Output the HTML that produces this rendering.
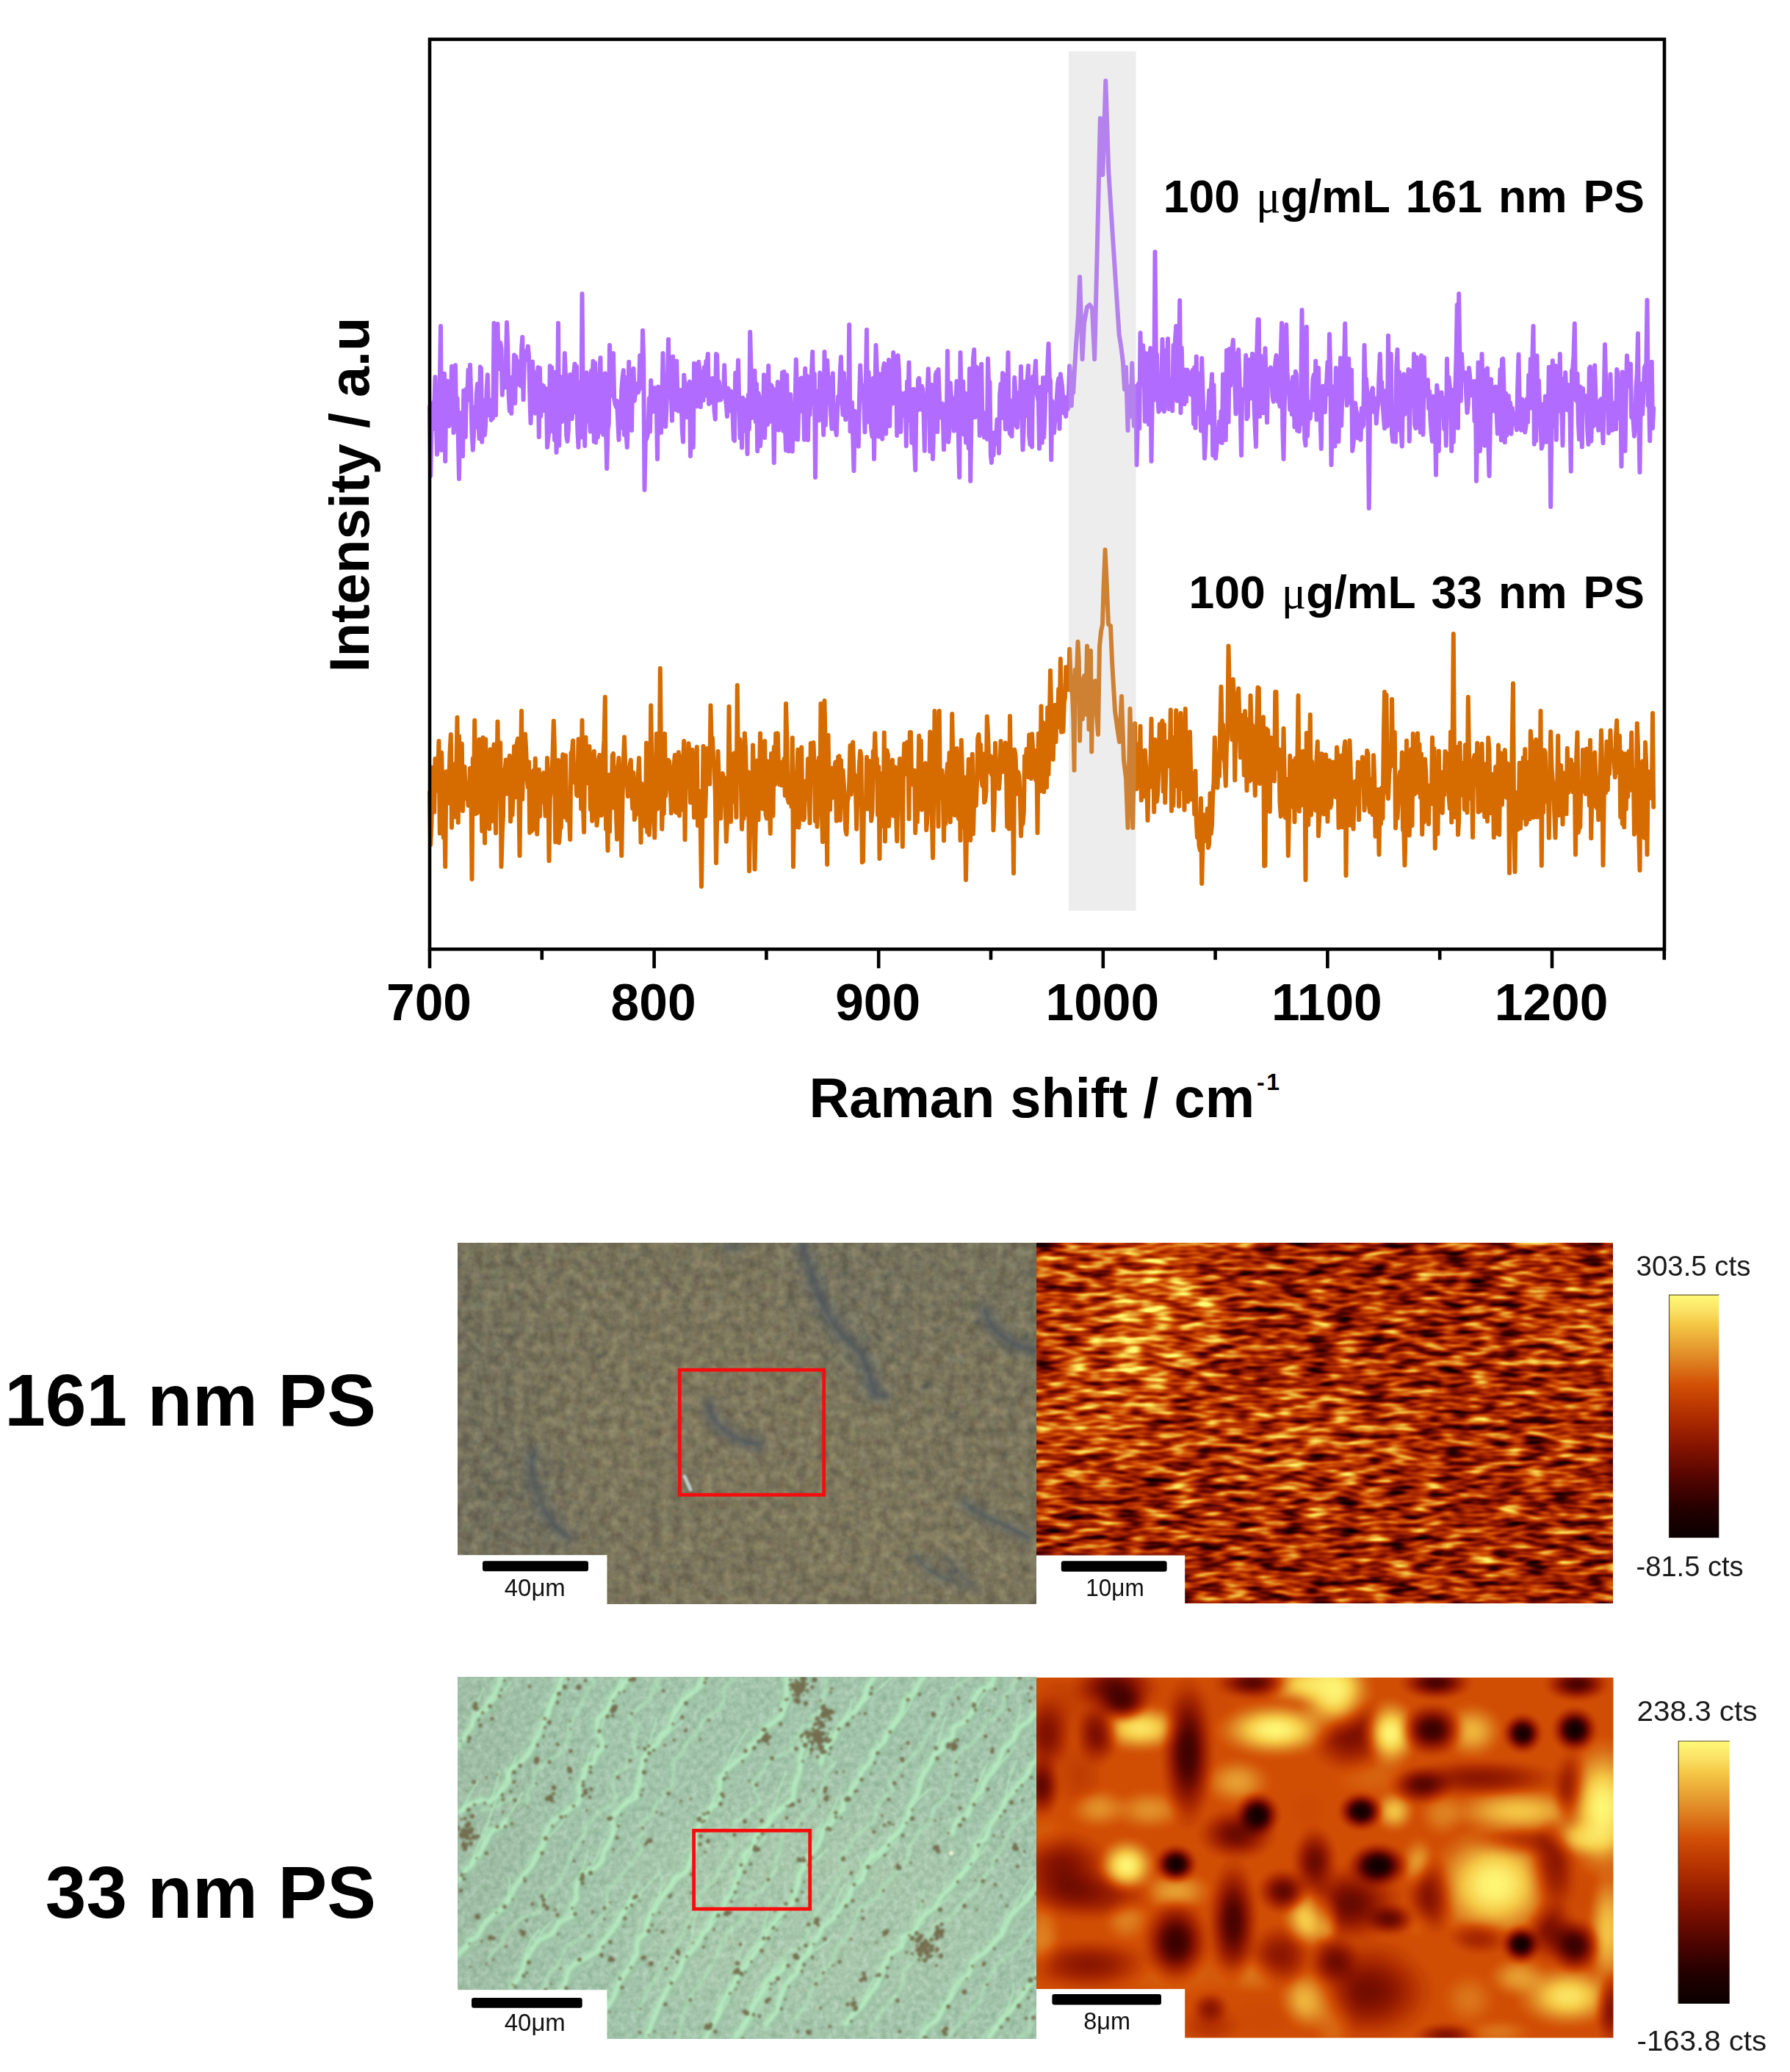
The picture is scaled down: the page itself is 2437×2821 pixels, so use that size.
<!DOCTYPE html>
<html lang="en"><head><meta charset="utf-8"><title>Raman spectra of PS nanoplastics</title>
<style>html,body{margin:0;padding:0;background:#fff}svg{display:block}</style></head><body>
<svg width="2437" height="2821" viewBox="0 0 2437 2821">
<defs><linearGradient id="cb" x1="0" y1="0" x2="0" y2="1">
<stop offset="0" stop-color="#fffa78"/><stop offset="0.06" stop-color="#fbe468"/><stop offset="0.12" stop-color="#f5c846"/><stop offset="0.25" stop-color="#e18c28"/>
<stop offset="0.37" stop-color="#d25005"/><stop offset="0.5" stop-color="#af2d00"/><stop offset="0.62" stop-color="#871400"/>
<stop offset="0.75" stop-color="#550500"/><stop offset="0.87" stop-color="#280000"/><stop offset="1" stop-color="#0a0000"/></linearGradient><filter id="hm1" x="0" y="0" width="1" height="1" color-interpolation-filters="sRGB">
<feTurbulence type="fractalNoise" baseFrequency="0.027 0.1" numOctaves="2" seed="5" result="t"/>
<feColorMatrix in="t" type="matrix" values="1.32 0 0 0 -0.16000000000000003  1.32 0 0 0 -0.16000000000000003  1.32 0 0 0 -0.16000000000000003  0 0 0 0 1" result="g"/>
<feComposite in="g" in2="SourceGraphic" operator="arithmetic" k1="0" k2="1" k3="1" k4="-0.5" result="v"/>
<feComponentTransfer in="v"><feFuncR type="table" tableValues="0.04 0.157 0.333 0.53 0.686 0.824 0.882 0.961 1"/><feFuncG type="table" tableValues="0 0 0.02 0.078 0.176 0.314 0.549 0.784 0.98"/><feFuncB type="table" tableValues="0 0 0 0 0 0.02 0.157 0.275 0.47"/></feComponentTransfer>
</filter>
<filter id="hm2" x="-0.1" y="-0.1" width="1.2" height="1.2" color-interpolation-filters="sRGB">
<feGaussianBlur stdDeviation="3" result="b"/>
<feComponentTransfer in="b"><feFuncR type="table" tableValues="0.04 0.157 0.333 0.53 0.686 0.824 0.882 0.961 1"/><feFuncG type="table" tableValues="0 0 0.02 0.078 0.176 0.314 0.549 0.784 0.98"/><feFuncB type="table" tableValues="0 0 0 0 0 0.02 0.157 0.275 0.47"/></feComponentTransfer>
</filter>
<filter id="gr1" x="0" y="0" width="1" height="1" color-interpolation-filters="sRGB">
<feTurbulence type="fractalNoise" baseFrequency="0.07" numOctaves="3" seed="3" result="t"/>
<feColorMatrix in="t" type="matrix" values="0.24 0.05 0 0 0.355  0.24 0 0 0 0.38  0.17 0 0.04 0 0.395  0 0 0 0 1" result="n"/>
<feComposite in="n" in2="SourceGraphic" operator="arithmetic" k1="0" k2="1" k3="1" k4="-0.5"/>
</filter>
<filter id="gr2" x="0" y="0" width="1" height="1" color-interpolation-filters="sRGB">
<feTurbulence type="fractalNoise" baseFrequency="0.12" numOctaves="3" seed="9" result="t"/>
<feColorMatrix in="t" type="matrix" values="0.2 0 0 0 0.4  0.17 0 0 0 0.415  0.2 0 0 0 0.4  0 0 0 0 1" result="n"/>
<feComposite in="n" in2="SourceGraphic" operator="arithmetic" k1="0" k2="1" k3="1" k4="-0.5"/>
</filter>
<radialGradient id="rgw"><stop offset="0" stop-color="#fff" stop-opacity="1"/><stop offset="0.2" stop-color="#fff" stop-opacity="0.93"/><stop offset="0.4" stop-color="#fff" stop-opacity="0.72"/><stop offset="0.6" stop-color="#fff" stop-opacity="0.42"/><stop offset="0.8" stop-color="#fff" stop-opacity="0.15"/><stop offset="1" stop-color="#fff" stop-opacity="0"/></radialGradient>
<radialGradient id="rgk"><stop offset="0" stop-color="#000" stop-opacity="1"/><stop offset="0.2" stop-color="#000" stop-opacity="0.93"/><stop offset="0.4" stop-color="#000" stop-opacity="0.72"/><stop offset="0.6" stop-color="#000" stop-opacity="0.42"/><stop offset="0.8" stop-color="#000" stop-opacity="0.15"/><stop offset="1" stop-color="#000" stop-opacity="0"/></radialGradient>
<filter id="b2" x="-0.5" y="-0.5" width="2" height="2"><feGaussianBlur stdDeviation="2.2"/></filter>
<filter id="b8" x="-0.5" y="-0.5" width="2" height="2"><feGaussianBlur stdDeviation="7"/></filter>
<filter id="b4" x="-0.5" y="-0.5" width="2" height="2"><feGaussianBlur stdDeviation="4"/></filter>
<filter id="b15" x="-0.5" y="-0.5" width="2" height="2"><feGaussianBlur stdDeviation="1.5"/></filter>
<filter id="b1" x="-0.5" y="-0.5" width="2" height="2"><feGaussianBlur stdDeviation="1.1"/></filter>
<filter id="b40" x="-0.5" y="-0.5" width="2" height="2"><feGaussianBlur stdDeviation="40"/></filter>
<clipPath id="c1"><rect x="623.5" y="1692" width="787.5" height="492"/></clipPath>
<clipPath id="c2"><rect x="1411" y="1692" width="784.5" height="491"/></clipPath>
<clipPath id="c3"><rect x="623.5" y="2283.5" width="787.5" height="492"/></clipPath>
<clipPath id="c4"><rect x="1411" y="2284" width="785.5" height="490.5"/></clipPath></defs>
<rect width="2437" height="2821" fill="#fff"/>
<path d="M585.0,553.8 586.2,648.0 587.5,580.2 588.8,584.6 590.0,547.8 591.2,556.9 592.5,513.2 593.8,573.6 595.0,618.7 596.2,608.1 597.5,583.4 598.8,520.5 600.0,444.0 601.2,613.0 602.5,515.4 603.8,573.9 605.0,508.8 606.2,628.0 607.5,530.9 608.8,518.7 610.0,579.3 611.2,580.0 612.5,554.2 613.8,544.1 615.0,498.8 616.2,501.5 617.5,589.1 618.8,563.3 620.0,497.3 621.2,570.6 622.5,542.2 623.8,593.4 625.0,652.0 626.2,561.9 627.5,564.5 628.8,610.4 630.0,621.1 631.2,531.7 632.5,541.1 633.8,595.0 635.0,529.2 636.2,545.1 637.5,503.6 638.8,531.4 640.0,496.7 641.2,533.9 642.5,589.1 643.8,612.7 645.0,590.9 646.2,554.6 647.5,581.5 648.8,536.6 650.0,522.8 651.2,566.0 652.5,597.1 653.8,499.4 655.0,501.5 656.2,601.8 657.5,545.0 658.8,584.9 660.0,592.4 661.2,575.8 662.5,532.5 663.8,510.3 665.0,564.9 666.2,558.4 667.5,550.9 668.8,571.9 670.0,544.0 671.2,568.9 672.5,440.0 673.8,552.9 675.0,565.1 676.2,473.2 677.5,441.0 678.8,502.2 680.0,496.5 681.2,466.5 682.5,474.8 683.8,537.7 685.0,505.6 686.2,524.7 687.5,527.3 688.8,496.9 690.0,439.0 691.2,470.9 692.5,535.1 693.8,559.4 695.0,536.2 696.2,562.8 697.5,513.5 698.8,532.9 700.0,483.3 701.2,549.0 702.5,485.6 703.8,503.0 705.0,492.1 706.2,514.9 707.5,524.2 708.8,525.5 710.0,477.4 711.2,459.1 712.5,544.3 713.8,492.2 715.0,478.4 716.2,480.7 717.5,490.0 718.8,471.4 720.0,484.2 721.2,534.2 722.5,576.0 723.8,546.3 725.0,492.5 726.2,525.7 727.5,524.3 728.8,562.7 730.0,507.0 731.2,546.8 732.5,500.3 733.8,595.0 735.0,501.2 736.2,566.7 737.5,548.7 738.8,524.4 740.0,525.6 741.2,558.9 742.5,536.5 743.8,529.1 745.0,609.0 746.2,597.6 747.5,585.7 748.8,498.2 750.0,546.9 751.2,500.4 752.5,587.3 753.8,529.6 755.0,599.0 756.2,506.8 757.5,616.0 758.8,582.4 760.0,440.0 761.2,606.6 762.5,529.7 763.8,513.4 765.0,574.2 766.2,553.2 767.5,543.3 768.8,481.0 770.0,510.8 771.2,593.3 772.5,600.9 773.8,585.2 775.0,522.4 776.2,510.0 777.5,548.8 778.8,570.3 780.0,552.4 781.2,508.1 782.5,495.4 783.8,561.1 785.0,499.1 786.2,582.4 787.5,608.8 788.8,520.7 790.0,588.0 791.2,595.4 792.5,400.0 793.8,542.3 795.0,521.7 796.2,606.9 797.5,517.9 798.8,507.2 800.0,573.5 801.2,534.9 802.5,567.1 803.8,587.5 805.0,504.7 806.2,522.6 807.5,491.8 808.8,601.2 810.0,494.0 811.2,602.4 812.5,563.1 813.8,595.6 815.0,575.9 816.2,508.1 817.5,487.0 818.8,588.2 820.0,519.5 821.2,591.7 822.5,510.9 823.8,508.3 825.0,582.1 826.2,638.0 827.5,585.6 828.8,576.8 830.0,470.0 831.2,513.4 832.5,481.0 833.8,539.0 835.0,481.0 836.2,542.9 837.5,550.2 838.8,553.9 840.0,545.8 841.2,571.5 842.5,598.8 843.8,557.8 845.0,582.8 846.2,530.9 847.5,514.4 848.8,504.1 850.0,591.9 851.2,513.7 852.5,589.8 853.8,609.0 855.0,567.7 856.2,492.7 857.5,572.6 858.8,527.8 860.0,585.9 861.2,511.3 862.5,501.8 863.8,545.7 865.0,536.1 866.2,522.6 867.5,534.5 868.8,534.3 870.0,530.6 871.2,484.1 872.5,527.5 873.8,527.9 875.0,450.0 876.2,489.7 877.5,667.0 878.8,600.2 880.0,598.1 881.2,594.3 882.5,587.2 883.8,542.3 885.0,587.5 886.2,518.0 887.5,555.3 888.8,560.7 890.0,540.2 891.2,528.0 892.5,539.0 893.8,549.4 895.0,625.0 896.2,526.5 897.5,533.7 898.8,535.5 900.0,589.0 901.2,557.0 902.5,481.0 903.8,576.2 905.0,537.8 906.2,580.8 907.5,554.4 908.8,516.1 910.0,462.0 911.2,536.1 912.5,511.5 913.8,537.4 915.0,572.8 916.2,485.5 917.5,538.1 918.8,540.8 920.0,557.8 921.2,491.6 922.5,541.7 923.8,559.7 925.0,540.5 926.2,530.9 927.5,539.6 928.8,587.0 930.0,601.6 931.2,510.5 932.5,527.0 933.8,548.3 935.0,568.1 936.2,556.4 937.5,523.1 938.8,519.6 940.0,621.0 941.2,553.7 942.5,563.1 943.8,608.9 945.0,494.7 946.2,517.5 947.5,547.6 948.8,553.3 950.0,499.7 951.2,492.7 952.5,504.7 953.8,554.0 955.0,506.0 956.2,514.5 957.5,545.1 958.8,500.0 960.0,538.7 961.2,491.9 962.5,495.7 963.8,482.0 965.0,549.9 966.2,523.1 967.5,529.7 968.8,547.8 970.0,515.0 971.2,530.1 972.5,558.4 973.8,570.8 975.0,482.0 976.2,483.0 977.5,545.1 978.8,519.6 980.0,534.0 981.2,544.4 982.5,526.9 983.8,540.8 985.0,538.1 986.2,497.2 987.5,540.8 988.8,550.8 990.0,567.0 991.2,528.4 992.5,534.5 993.8,559.3 995.0,532.5 996.2,536.1 997.5,563.3 998.8,598.3 1000.0,600.0 1001.2,507.7 1002.5,541.0 1003.8,540.6 1005.0,490.6 1006.2,544.7 1007.5,596.2 1008.8,553.4 1010.0,609.5 1011.2,541.5 1012.5,567.7 1013.8,586.5 1015.0,578.4 1016.2,544.5 1017.5,618.0 1018.8,537.4 1020.0,583.9 1021.2,452.0 1022.5,502.7 1023.8,568.9 1025.0,551.1 1026.2,561.8 1027.5,504.7 1028.8,574.1 1030.0,522.8 1031.2,614.1 1032.5,535.3 1033.8,541.2 1035.0,607.2 1036.2,592.2 1037.5,549.2 1038.8,589.2 1040.0,510.2 1041.2,595.9 1042.5,547.1 1043.8,516.7 1045.0,578.0 1046.2,498.1 1047.5,574.4 1048.8,555.1 1050.0,524.2 1051.2,527.4 1052.5,536.6 1053.8,630.0 1055.0,530.6 1056.2,542.4 1057.5,559.9 1058.8,520.1 1060.0,585.6 1061.2,552.3 1062.5,526.2 1063.8,555.7 1065.0,507.3 1066.2,586.6 1067.5,506.1 1068.8,575.7 1070.0,612.9 1071.2,510.4 1072.5,576.1 1073.8,614.3 1075.0,591.9 1076.2,537.1 1077.5,582.8 1078.8,614.4 1080.0,574.1 1081.2,598.1 1082.5,551.5 1083.8,489.6 1085.0,531.9 1086.2,598.4 1087.5,550.9 1088.8,516.3 1090.0,521.7 1091.2,514.5 1092.5,560.1 1093.8,535.4 1095.0,598.6 1096.2,501.7 1097.5,593.9 1098.8,512.1 1100.0,599.0 1101.2,541.7 1102.5,564.9 1103.8,536.3 1105.0,505.6 1106.2,479.0 1107.5,548.7 1108.8,508.9 1110.0,650.0 1111.2,532.4 1112.5,544.6 1113.8,558.8 1115.0,572.2 1116.2,507.6 1117.5,517.7 1118.8,557.2 1120.0,555.5 1121.2,591.9 1122.5,479.0 1123.8,578.9 1125.0,535.7 1126.2,490.8 1127.5,520.3 1128.8,513.7 1130.0,530.5 1131.2,565.2 1132.5,583.8 1133.8,508.3 1135.0,578.7 1136.2,578.2 1137.5,583.9 1138.8,592.3 1140.0,559.4 1141.2,539.7 1142.5,547.5 1143.8,506.2 1145.0,485.9 1146.2,541.1 1147.5,564.7 1148.8,507.9 1150.0,531.2 1151.2,571.3 1152.5,541.2 1153.8,542.3 1155.0,567.2 1156.2,442.0 1157.5,587.3 1158.8,585.6 1160.0,548.1 1161.2,592.7 1162.5,641.0 1163.8,559.8 1165.0,575.1 1166.2,568.0 1167.5,590.0 1168.8,607.8 1170.0,541.3 1171.2,497.4 1172.5,528.7 1173.8,538.0 1175.0,525.1 1176.2,549.2 1177.5,588.3 1178.8,521.8 1180.0,449.0 1181.2,574.4 1182.5,506.7 1183.8,536.4 1185.0,565.5 1186.2,585.1 1187.5,594.6 1188.8,515.0 1190.0,625.0 1191.2,545.3 1192.5,470.0 1193.8,503.1 1195.0,562.6 1196.2,594.4 1197.5,509.2 1198.8,519.4 1200.0,581.5 1201.2,597.8 1202.5,501.4 1203.8,494.9 1205.0,564.7 1206.2,590.5 1207.5,495.9 1208.8,569.4 1210.0,489.9 1211.2,580.0 1212.5,510.2 1213.8,519.6 1215.0,549.5 1216.2,480.0 1217.5,493.5 1218.8,508.2 1220.0,500.0 1221.2,592.9 1222.5,484.0 1223.8,503.5 1225.0,541.8 1226.2,588.0 1227.5,535.4 1228.8,540.1 1230.0,550.4 1231.2,565.7 1232.5,535.0 1233.8,607.3 1235.0,519.8 1236.2,549.1 1237.5,493.6 1238.8,573.2 1240.0,553.6 1241.2,602.7 1242.5,562.8 1243.8,529.8 1245.0,607.5 1246.2,640.0 1247.5,550.4 1248.8,559.3 1250.0,517.1 1251.2,515.0 1252.5,540.2 1253.8,557.4 1255.0,525.8 1256.2,529.6 1257.5,560.5 1258.8,613.7 1260.0,540.7 1261.2,537.4 1262.5,537.3 1263.8,502.3 1265.0,533.8 1266.2,614.6 1267.5,595.0 1268.8,524.0 1270.0,625.0 1271.2,577.6 1272.5,561.5 1273.8,510.1 1275.0,506.4 1276.2,587.9 1277.5,503.0 1278.8,538.0 1280.0,568.5 1281.2,564.0 1282.5,549.4 1283.8,565.5 1285.0,612.1 1286.2,550.4 1287.5,589.8 1288.8,571.2 1290.0,478.0 1291.2,601.8 1292.5,586.1 1293.8,521.6 1295.0,539.4 1296.2,541.5 1297.5,549.5 1298.8,586.6 1300.0,558.5 1301.2,557.0 1302.5,519.1 1303.8,532.7 1305.0,600.0 1306.2,650.0 1307.5,480.0 1308.8,544.6 1310.0,583.3 1311.2,519.5 1312.5,591.6 1313.8,535.3 1315.0,602.5 1316.2,536.4 1317.5,584.6 1318.8,610.2 1320.0,502.1 1321.2,655.0 1322.5,572.8 1323.8,538.1 1325.0,488.3 1326.2,476.0 1327.5,568.1 1328.8,510.2 1330.0,499.7 1331.2,557.8 1332.5,519.0 1333.8,592.9 1335.0,521.2 1336.2,495.8 1337.5,579.4 1338.8,562.4 1340.0,595.3 1341.2,562.0 1342.5,595.5 1343.8,597.8 1345.0,488.2 1346.2,528.4 1347.5,519.8 1348.8,618.2 1350.0,630.0 1351.2,595.0 1352.5,619.6 1353.8,589.1 1355.0,604.3 1356.2,593.5 1357.5,571.2 1358.8,580.6 1360.0,617.0 1361.2,537.0 1362.5,522.7 1363.8,569.0 1365.0,507.9 1366.2,535.9 1367.5,542.6 1368.8,584.2 1370.0,510.3 1371.2,541.2 1372.5,480.0 1373.8,582.5 1375.0,590.9 1376.2,554.0 1377.5,593.8 1378.8,545.3 1380.0,564.9 1381.2,514.0 1382.5,535.3 1383.8,580.0 1385.0,581.8 1386.2,535.5 1387.5,543.0 1388.8,549.0 1390.0,498.9 1391.2,564.9 1392.5,612.3 1393.8,581.5 1395.0,520.0 1396.2,566.4 1397.5,523.8 1398.8,515.1 1400.0,498.0 1401.2,593.4 1402.5,605.2 1403.8,603.3 1405.0,608.5 1406.2,512.7 1407.5,529.9 1408.8,506.9 1410.0,491.5 1411.2,531.4 1412.5,540.3 1413.8,547.3 1415.0,610.8 1416.2,527.0 1417.5,530.3 1418.8,602.8 1420.0,514.2 1421.2,595.4 1422.5,564.7 1423.8,514.0 1425.0,532.0 1426.2,498.2 1427.5,468.0 1428.8,513.7 1430.0,518.8 1431.2,626.0 1432.5,546.1 1433.8,555.5 1435.0,589.3 1436.2,572.2 1437.5,571.6 1438.8,542.5 1440.0,522.4 1441.2,515.4 1442.5,583.8 1443.8,509.3 1445.0,518.5 1446.2,527.0 1447.5,550.5 1448.8,562.6 1450.0,540.9 1451.2,566.9 1452.5,541.8 1453.8,557.0 1455.0,533.6 1456.2,498.2 1457.5,512.3 1458.8,552.4 1460.0,519.8 1461.2,534.8 1462.0,520.0 1465.0,470.0 1468.0,430.0 1470.1,377.0 1473.5,489.0 1476.0,440.0 1480.0,418.0 1483.5,415.0 1487.0,420.0 1490.2,489.0 1494.0,330.0 1497.9,161.0 1501.3,238.0 1505.3,110.0 1509.3,234.0 1515.3,328.0 1520.0,400.0 1523.7,456.0 1526.0,470.0 1528.8,492.0 1531.0,530.0 1533.0,500.0 1535.5,586.0 1536.2,526.0 1537.5,567.9 1538.8,541.9 1540.0,551.2 1541.2,494.5 1542.5,540.8 1543.8,579.7 1545.0,567.4 1546.2,525.7 1547.5,633.0 1548.8,576.1 1550.0,522.6 1551.2,583.3 1552.5,453.3 1553.8,523.5 1555.0,484.8 1556.2,470.3 1557.5,497.5 1558.8,573.7 1560.0,507.6 1561.2,481.3 1562.5,534.0 1563.8,577.7 1565.0,537.0 1566.2,474.1 1567.5,628.0 1568.8,541.6 1570.0,517.4 1571.2,544.6 1572.5,343.0 1573.8,481.9 1575.0,482.4 1576.2,540.7 1577.5,560.5 1578.8,520.2 1580.0,557.4 1581.2,526.5 1582.5,462.0 1583.8,555.6 1585.0,560.3 1586.2,477.6 1587.5,505.8 1588.8,490.3 1590.0,461.2 1591.2,556.9 1592.5,517.0 1593.8,550.8 1595.0,531.8 1596.2,559.3 1597.5,470.0 1598.8,507.8 1600.0,462.9 1601.2,444.1 1602.5,545.8 1603.8,481.3 1605.0,509.5 1606.2,409.0 1607.5,562.0 1608.8,473.4 1610.0,527.0 1611.2,503.0 1612.5,550.1 1613.8,504.2 1615.0,546.7 1616.2,503.5 1617.5,506.6 1618.8,517.3 1620.0,507.7 1621.2,537.2 1622.5,508.1 1623.8,503.9 1625.0,576.9 1626.2,500.2 1627.5,582.6 1628.8,485.5 1630.0,563.3 1631.2,508.6 1632.5,531.1 1633.8,539.9 1635.0,586.5 1636.2,487.7 1637.5,532.5 1638.8,577.8 1640.0,624.0 1641.2,601.1 1642.5,562.1 1643.8,575.5 1645.0,555.0 1646.2,531.5 1647.5,575.4 1648.8,530.2 1650.0,509.5 1651.2,620.0 1652.5,523.9 1653.8,601.1 1655.0,624.0 1656.2,611.8 1657.5,586.3 1658.8,593.1 1660.0,573.8 1661.2,601.7 1662.5,560.3 1663.8,602.9 1665.0,509.8 1666.2,597.7 1667.5,543.8 1668.8,598.9 1670.0,477.0 1671.2,513.5 1672.5,574.6 1673.8,474.9 1675.0,525.0 1676.2,498.0 1677.5,476.5 1678.8,463.0 1680.0,507.8 1681.2,522.5 1682.5,563.5 1683.8,491.0 1685.0,481.5 1686.2,476.1 1687.5,514.8 1688.8,566.8 1690.0,620.0 1691.2,530.3 1692.5,543.6 1693.8,543.1 1695.0,539.4 1696.2,483.7 1697.5,570.4 1698.8,567.3 1700.0,490.6 1701.2,489.7 1702.5,542.4 1703.8,536.2 1705.0,481.7 1706.2,483.6 1707.5,553.2 1708.8,582.7 1710.0,608.0 1711.2,479.0 1712.5,435.0 1713.8,435.0 1715.0,567.1 1716.2,484.3 1717.5,520.9 1718.8,530.7 1720.0,562.2 1721.2,525.3 1722.5,474.3 1723.8,524.8 1725.0,575.1 1726.2,502.7 1727.5,510.8 1728.8,506.7 1730.0,500.4 1731.2,510.9 1732.5,539.5 1733.8,546.7 1735.0,540.0 1736.2,495.0 1737.5,483.8 1738.8,501.1 1740.0,547.0 1741.2,544.6 1742.5,553.2 1743.8,480.4 1745.0,440.0 1746.2,580.0 1747.5,625.0 1748.8,550.2 1750.0,494.6 1751.2,442.0 1752.5,506.9 1753.8,521.9 1755.0,533.6 1756.2,557.6 1757.5,521.0 1758.8,564.2 1760.0,513.4 1761.2,533.4 1762.5,581.3 1763.8,505.7 1765.0,510.4 1766.2,586.3 1767.5,559.3 1768.8,587.3 1770.0,568.4 1771.2,538.6 1772.5,422.0 1773.8,577.0 1775.0,501.6 1776.2,596.6 1777.5,606.4 1778.8,445.0 1780.0,593.6 1781.2,560.9 1782.5,547.4 1783.8,569.9 1785.0,551.3 1786.2,550.2 1787.5,515.8 1788.8,510.4 1790.0,558.5 1791.2,491.6 1792.5,571.5 1793.8,539.9 1795.0,501.0 1796.2,555.2 1797.5,566.6 1798.8,610.9 1800.0,530.8 1801.2,525.6 1802.5,536.8 1803.8,561.1 1805.0,530.3 1806.2,519.6 1807.5,493.1 1808.8,536.6 1810.0,455.0 1811.2,507.3 1812.5,633.0 1813.8,577.6 1815.0,526.4 1816.2,527.8 1817.5,607.5 1818.8,501.0 1820.0,571.4 1821.2,550.8 1822.5,601.2 1823.8,540.2 1825.0,487.5 1826.2,579.3 1827.5,530.1 1828.8,530.9 1830.0,497.3 1831.2,440.5 1832.5,526.7 1833.8,551.8 1835.0,504.0 1836.2,488.6 1837.5,547.7 1838.8,525.0 1840.0,503.7 1841.2,614.0 1842.5,603.3 1843.8,585.3 1845.0,548.6 1846.2,558.0 1847.5,562.8 1848.8,596.6 1850.0,567.6 1851.2,589.6 1852.5,598.8 1853.8,555.7 1855.0,581.4 1856.2,578.7 1857.5,470.0 1858.8,519.8 1860.0,515.7 1861.2,533.9 1862.5,572.3 1863.8,692.0 1865.0,562.8 1866.2,541.5 1867.5,533.1 1868.8,528.4 1870.0,560.6 1871.2,542.0 1872.5,544.3 1873.8,576.4 1875.0,558.5 1876.2,550.9 1877.5,512.4 1878.8,482.0 1880.0,534.6 1881.2,520.2 1882.5,549.7 1883.8,568.8 1885.0,583.3 1886.2,532.3 1887.5,578.5 1888.8,580.3 1890.0,457.0 1891.2,552.3 1892.5,507.4 1893.8,482.0 1895.0,589.7 1896.2,601.0 1897.5,555.4 1898.8,564.0 1900.0,601.6 1901.2,500.9 1902.5,476.0 1903.8,585.3 1905.0,506.4 1906.2,559.1 1907.5,587.3 1908.8,607.6 1910.0,543.7 1911.2,509.4 1912.5,564.1 1913.8,557.7 1915.0,550.6 1916.2,543.0 1917.5,502.9 1918.8,600.8 1920.0,541.8 1921.2,512.1 1922.5,504.6 1923.8,552.2 1925.0,482.0 1926.2,578.9 1927.5,583.2 1928.8,486.5 1930.0,581.8 1931.2,515.6 1932.5,519.5 1933.8,588.6 1935.0,484.1 1936.2,550.0 1937.5,591.7 1938.8,486.4 1940.0,539.1 1941.2,530.5 1942.5,531.3 1943.8,517.2 1945.0,555.8 1946.2,533.1 1947.5,572.3 1948.8,589.8 1950.0,600.9 1951.2,539.5 1952.5,543.3 1953.8,567.0 1955.0,646.6 1956.2,524.8 1957.5,536.1 1958.8,614.0 1960.0,546.4 1961.2,536.9 1962.5,534.3 1963.8,556.0 1965.0,541.7 1966.2,583.9 1967.5,554.5 1968.8,606.6 1970.0,488.4 1971.2,564.1 1972.5,513.5 1973.8,526.1 1975.0,557.6 1976.2,614.0 1977.5,531.1 1978.8,601.7 1980.0,554.3 1981.2,534.0 1982.5,489.0 1983.8,415.0 1985.0,582.7 1986.2,400.0 1987.5,498.2 1988.8,545.7 1990.0,482.0 1991.2,504.5 1992.5,506.7 1993.8,517.1 1995.0,507.3 1996.2,538.1 1997.5,561.8 1998.8,551.0 2000.0,501.1 2001.2,513.0 2002.5,538.3 2003.8,533.1 2005.0,537.6 2006.2,519.3 2007.5,573.2 2008.8,519.0 2010.0,655.0 2011.2,590.4 2012.5,493.4 2013.8,497.7 2015.0,614.0 2016.2,545.2 2017.5,482.0 2018.8,535.4 2020.0,505.2 2021.2,606.7 2022.5,535.8 2023.8,503.3 2025.0,501.3 2026.2,597.3 2027.5,648.0 2028.8,579.1 2030.0,516.2 2031.2,548.5 2032.5,539.0 2033.8,559.4 2035.0,544.7 2036.2,526.6 2037.5,559.3 2038.8,590.4 2040.0,571.5 2041.2,546.2 2042.5,503.1 2043.8,599.3 2045.0,489.1 2046.2,488.5 2047.5,529.4 2048.8,602.1 2050.0,535.4 2051.2,592.9 2052.5,589.3 2053.8,539.1 2055.0,569.3 2056.2,548.6 2057.5,590.7 2058.8,555.5 2060.0,571.8 2061.2,562.8 2062.5,563.7 2063.8,577.8 2065.0,585.4 2066.2,525.8 2067.5,482.6 2068.8,549.7 2070.0,581.4 2071.2,585.7 2072.5,543.6 2073.8,551.4 2075.0,574.2 2076.2,588.6 2077.5,580.6 2078.8,543.1 2080.0,574.6 2081.2,510.8 2082.5,555.4 2083.8,488.7 2085.0,555.5 2086.2,492.0 2087.5,444.0 2088.8,604.8 2090.0,548.3 2091.2,600.0 2092.5,484.3 2093.8,570.9 2095.0,518.3 2096.2,556.6 2097.5,581.5 2098.8,610.6 2100.0,605.8 2101.2,550.2 2102.5,586.8 2103.8,539.6 2105.0,601.8 2106.2,567.9 2107.5,574.3 2108.8,499.8 2110.0,561.1 2111.2,690.0 2112.5,570.0 2113.8,491.1 2115.0,562.4 2116.2,580.1 2117.5,497.9 2118.8,598.7 2120.0,536.2 2121.2,498.8 2122.5,559.4 2123.8,482.0 2125.0,554.7 2126.2,555.6 2127.5,606.4 2128.8,515.7 2130.0,539.2 2131.2,507.3 2132.5,538.9 2133.8,558.0 2135.0,523.9 2136.2,525.1 2137.5,567.3 2138.8,641.6 2140.0,504.1 2141.2,502.7 2142.5,483.7 2143.8,440.5 2145.0,542.7 2146.2,545.7 2147.5,509.1 2148.8,574.0 2150.0,598.0 2151.2,526.6 2152.5,543.8 2153.8,608.5 2155.0,529.1 2156.2,552.4 2157.5,545.3 2158.8,552.2 2160.0,539.0 2161.2,585.4 2162.5,604.9 2163.8,501.7 2165.0,499.4 2166.2,600.7 2167.5,567.2 2168.8,527.6 2170.0,579.8 2171.2,497.5 2172.5,541.8 2173.8,570.4 2175.0,550.4 2176.2,585.8 2177.5,563.4 2178.8,544.6 2180.0,543.1 2181.2,572.8 2182.5,603.1 2183.8,538.2 2185.0,469.0 2186.2,518.5 2187.5,545.2 2188.8,530.1 2190.0,589.7 2191.2,562.0 2192.5,509.5 2193.8,559.4 2195.0,585.8 2196.2,551.7 2197.5,562.8 2198.8,548.2 2200.0,584.1 2201.2,502.9 2202.5,507.3 2203.8,569.5 2205.0,518.6 2206.2,526.1 2207.5,635.0 2208.8,506.6 2210.0,541.1 2211.2,548.5 2212.5,614.0 2213.8,536.9 2215.0,484.3 2216.2,503.4 2217.5,498.0 2218.8,526.4 2220.0,495.4 2221.2,567.9 2222.5,558.3 2223.8,575.7 2225.0,593.7 2226.2,580.1 2227.5,527.3 2228.8,508.2 2230.0,454.0 2231.2,571.7 2232.5,643.0 2233.8,541.6 2235.0,522.8 2236.2,563.8 2237.5,534.0 2238.8,500.7 2240.0,497.5 2241.2,509.7 2242.5,408.6 2243.8,551.9 2245.0,539.7 2246.2,600.3 2247.5,544.2 2248.8,492.8 2250.0,582.9 2251.2,555.5" fill="none" stroke="#b26bff" stroke-width="6" stroke-linejoin="round" stroke-linecap="round"/>
<path d="M585.0,1078.4 586.2,1150.0 587.5,1120.6 588.8,1045.0 590.0,1073.6 591.2,1105.6 592.5,1032.9 593.8,1076.4 595.0,1076.4 596.2,1053.8 597.5,1008.9 598.8,1134.6 600.0,1130.9 601.2,1024.7 602.5,1083.4 603.8,1140.4 605.0,1093.5 606.2,1180.0 607.5,1050.4 608.8,1050.5 610.0,1093.6 611.2,1072.1 612.5,1024.1 613.8,999.9 615.0,1126.8 616.2,1040.1 617.5,1088.8 618.8,1083.9 620.0,1112.3 621.2,1052.0 622.5,976.7 623.8,1119.8 625.0,1002.2 626.2,1051.8 627.5,1015.6 628.8,1012.5 630.0,1104.0 631.2,1063.2 632.5,1044.1 633.8,1086.8 635.0,1075.0 636.2,1078.7 637.5,1096.8 638.8,1074.1 640.0,1046.1 641.2,1047.3 642.5,1197.0 643.8,1032.7 645.0,1071.6 646.2,980.7 647.5,1108.1 648.8,1092.7 650.0,1106.7 651.2,1092.2 652.5,1006.8 653.8,1039.3 655.0,1051.8 656.2,1131.4 657.5,1004.2 658.8,1056.2 660.0,1147.8 661.2,1006.6 662.5,1106.8 663.8,1046.8 665.0,1081.0 666.2,1128.4 667.5,1020.2 668.8,1064.3 670.0,1117.9 671.2,1051.2 672.5,1013.6 673.8,1084.9 675.0,1134.3 676.2,1062.9 677.5,982.4 678.8,1086.2 680.0,1015.4 681.2,1011.2 682.5,1180.0 683.8,1133.3 685.0,1110.0 686.2,1048.5 687.5,1048.2 688.8,1034.5 690.0,1080.8 691.2,1074.1 692.5,1078.3 693.8,1029.1 695.0,1118.3 696.2,1090.9 697.5,1109.4 698.8,1075.7 700.0,1016.3 701.2,1085.6 702.5,1073.4 703.8,1011.9 705.0,1005.7 706.2,1075.9 707.5,1165.0 708.8,1056.5 710.0,968.0 711.2,1088.1 712.5,1036.2 713.8,1055.9 715.0,999.6 716.2,1020.0 717.5,1058.7 718.8,1071.6 720.0,1037.6 721.2,1133.8 722.5,1069.9 723.8,1131.7 725.0,1130.2 726.2,1048.9 727.5,1091.0 728.8,1032.7 730.0,1100.9 731.2,1135.7 732.5,1093.7 733.8,1047.8 735.0,1111.3 736.2,1057.9 737.5,1091.9 738.8,1068.9 740.0,1052.2 741.2,1071.2 742.5,1110.8 743.8,1108.6 745.0,1032.0 746.2,1058.0 747.5,1172.0 748.8,1087.1 750.0,1076.1 751.2,1058.1 752.5,1027.0 753.8,981.4 755.0,1018.7 756.2,1146.5 757.5,1092.0 758.8,1079.7 760.0,1035.1 761.2,1147.4 762.5,1127.7 763.8,1127.0 765.0,1057.2 766.2,1027.3 767.5,1048.6 768.8,1112.6 770.0,1028.5 771.2,1095.3 772.5,1116.8 773.8,1114.7 775.0,1113.3 776.2,1143.0 777.5,1025.0 778.8,1025.6 780.0,1008.6 781.2,1050.4 782.5,1065.6 783.8,1049.5 785.0,1082.4 786.2,1083.4 787.5,1006.2 788.8,1012.2 790.0,1021.7 791.2,1101.1 792.5,980.7 793.8,1093.4 795.0,1133.0 796.2,1042.8 797.5,1004.0 798.8,1052.6 800.0,1051.7 801.2,1066.7 802.5,1016.3 803.8,1101.9 805.0,1073.2 806.2,1117.7 807.5,1039.7 808.8,1023.1 810.0,1072.9 811.2,1065.0 812.5,1123.7 813.8,1109.8 815.0,1033.7 816.2,1028.0 817.5,1051.0 818.8,1110.1 820.0,1083.8 821.2,1030.3 822.5,1007.4 823.8,949.0 825.0,1128.7 826.2,1099.3 827.5,1158.0 828.8,1055.1 830.0,1132.2 831.2,1070.8 832.5,1089.3 833.8,1028.0 835.0,1025.9 836.2,1100.0 837.5,1044.9 838.8,1104.2 840.0,1142.7 841.2,1049.3 842.5,1032.0 843.8,1086.4 845.0,1109.3 846.2,1165.0 847.5,1087.1 848.8,1037.9 850.0,1003.6 851.2,1042.8 852.5,1052.5 853.8,1067.6 855.0,1084.2 856.2,1077.0 857.5,1041.4 858.8,1034.8 860.0,1078.0 861.2,1100.7 862.5,1052.0 863.8,1116.0 865.0,1109.9 866.2,1109.0 867.5,1061.2 868.8,1057.7 870.0,1032.0 871.2,1077.1 872.5,1147.0 873.8,1067.0 875.0,1071.2 876.2,1106.0 877.5,1070.1 878.8,1125.1 880.0,1011.4 881.2,1132.8 882.5,1051.7 883.8,1136.6 885.0,1116.1 886.2,960.6 887.5,1052.4 888.8,1034.2 890.0,1067.6 891.2,1140.4 892.5,1069.2 893.8,998.9 895.0,1101.4 896.2,1092.6 897.5,1095.9 898.8,910.0 900.0,1027.4 901.2,1128.8 902.5,1085.1 903.8,1107.8 905.0,998.9 906.2,1083.7 907.5,1066.5 908.8,1042.0 910.0,1034.9 911.2,1037.2 912.5,1061.9 913.8,1107.1 915.0,1075.0 916.2,1091.2 917.5,1044.1 918.8,1028.0 920.0,1105.6 921.2,1106.3 922.5,1063.0 923.8,1024.2 925.0,1110.5 926.2,1061.1 927.5,1029.8 928.8,1102.5 930.0,1039.2 931.2,1008.9 932.5,1143.2 933.8,1050.2 935.0,1040.7 936.2,1071.3 937.5,1012.2 938.8,1035.6 940.0,1092.6 941.2,1038.8 942.5,1020.8 943.8,1050.7 945.0,1112.9 946.2,1082.2 947.5,1086.4 948.8,1017.1 950.0,1123.9 951.2,1076.4 952.5,1082.7 953.8,1130.2 955.0,1207.0 956.2,1116.8 957.5,1016.0 958.8,1083.3 960.0,1111.2 961.2,1069.4 962.5,1019.0 963.8,1025.6 965.0,1018.3 966.2,1067.5 967.5,960.6 968.8,1018.5 970.0,1004.6 971.2,1034.3 972.5,1041.7 973.8,1081.2 975.0,1175.0 976.2,1108.0 977.5,1023.1 978.8,1063.8 980.0,1090.8 981.2,1114.3 982.5,1055.9 983.8,1053.0 985.0,1066.1 986.2,1058.6 987.5,1090.4 988.8,1145.6 990.0,1118.7 991.2,1102.4 992.5,962.0 993.8,1067.9 995.0,1118.8 996.2,1026.6 997.5,1091.8 998.8,1075.1 1000.0,1025.2 1001.2,1072.0 1002.5,1112.8 1003.8,933.0 1005.0,1055.3 1006.2,1037.2 1007.5,1006.7 1008.8,1061.4 1010.0,1128.8 1011.2,1096.3 1012.5,1114.4 1013.8,998.5 1015.0,1016.7 1016.2,1067.1 1017.5,1109.4 1018.8,1051.3 1020.0,1186.0 1021.2,1125.4 1022.5,1127.1 1023.8,1135.8 1025.0,1014.4 1026.2,1049.2 1027.5,1183.5 1028.8,1125.6 1030.0,1052.8 1031.2,1035.6 1032.5,1116.1 1033.8,1065.9 1035.0,998.4 1036.2,1042.6 1037.5,1051.7 1038.8,1101.3 1040.0,1066.5 1041.2,1008.9 1042.5,1108.5 1043.8,1114.3 1045.0,1036.4 1046.2,1086.8 1047.5,1088.1 1048.8,1134.7 1050.0,1026.1 1051.2,1093.3 1052.5,1110.8 1053.8,1017.3 1055.0,1068.3 1056.2,998.8 1057.5,1004.8 1058.8,998.4 1060.0,1043.3 1061.2,1068.0 1062.5,1037.6 1063.8,1069.2 1065.0,1066.1 1066.2,1047.6 1067.5,1033.0 1068.8,1083.2 1070.0,958.0 1071.2,998.3 1072.5,1087.2 1073.8,1092.7 1075.0,1057.4 1076.2,1080.2 1077.5,1098.3 1078.8,1004.5 1080.0,1180.0 1081.2,1076.4 1082.5,1126.5 1083.8,1078.1 1085.0,1054.7 1086.2,1020.8 1087.5,1126.4 1088.8,1096.7 1090.0,1055.0 1091.2,1017.6 1092.5,1108.7 1093.8,1116.3 1095.0,1114.4 1096.2,1063.7 1097.5,1087.6 1098.8,1083.2 1100.0,1033.2 1101.2,1070.2 1102.5,1120.6 1103.8,1011.9 1105.0,1036.1 1106.2,1056.0 1107.5,1011.1 1108.8,1045.7 1110.0,1117.9 1111.2,1037.1 1112.5,1125.5 1113.8,1083.0 1115.0,1031.8 1116.2,1102.8 1117.5,958.0 1118.8,1105.5 1120.0,1146.1 1121.2,1053.7 1122.5,954.0 1123.8,1022.3 1125.0,1088.6 1126.2,1177.0 1127.5,1000.9 1128.8,1070.1 1130.0,1102.4 1131.2,1045.5 1132.5,1086.6 1133.8,1051.9 1135.0,1059.6 1136.2,1046.5 1137.5,1037.5 1138.8,1117.6 1140.0,1079.9 1141.2,1030.4 1142.5,1029.4 1143.8,1116.8 1145.0,1035.3 1146.2,1097.9 1147.5,1048.7 1148.8,1067.8 1150.0,1095.9 1151.2,1129.8 1152.5,1136.0 1153.8,1090.4 1155.0,1086.0 1156.2,1066.8 1157.5,1015.0 1158.8,1081.5 1160.0,1036.8 1161.2,1010.4 1162.5,1053.0 1163.8,1055.2 1165.0,1078.0 1166.2,1128.7 1167.5,1079.4 1168.8,1078.4 1170.0,1039.5 1171.2,1022.5 1172.5,1031.1 1173.8,1174.0 1175.0,1173.0 1176.2,1087.7 1177.5,1097.2 1178.8,1100.4 1180.0,1030.7 1181.2,1101.4 1182.5,1071.2 1183.8,1036.0 1185.0,1076.4 1186.2,1117.6 1187.5,1105.7 1188.8,1022.8 1190.0,1039.8 1191.2,998.4 1192.5,1035.7 1193.8,1032.7 1195.0,1109.5 1196.2,1043.9 1197.5,1169.0 1198.8,1053.0 1200.0,1096.9 1201.2,1124.7 1202.5,1118.9 1203.8,997.4 1205.0,1145.4 1206.2,1024.0 1207.5,1021.7 1208.8,1027.5 1210.0,1124.6 1211.2,1092.5 1212.5,1093.8 1213.8,1048.7 1215.0,1034.7 1216.2,1110.8 1217.5,1052.4 1218.8,1044.4 1220.0,1108.0 1221.2,1145.2 1222.5,1079.0 1223.8,1057.0 1225.0,1033.1 1226.2,1070.7 1227.5,1068.8 1228.8,1152.6 1230.0,1041.7 1231.2,1012.8 1232.5,1049.4 1233.8,1053.7 1235.0,1010.5 1236.2,1021.2 1237.5,1115.0 1238.8,997.0 1240.0,997.0 1241.2,1065.9 1242.5,1056.6 1243.8,1068.7 1245.0,1049.1 1246.2,1133.9 1247.5,1085.5 1248.8,1119.0 1250.0,1071.5 1251.2,1001.8 1252.5,1076.5 1253.8,1008.4 1255.0,1102.5 1256.2,1046.1 1257.5,1090.1 1258.8,1044.9 1260.0,1039.2 1261.2,1130.1 1262.5,1114.1 1263.8,1072.9 1265.0,1056.7 1266.2,996.6 1267.5,1035.4 1268.8,1110.2 1270.0,1168.0 1271.2,1083.3 1272.5,968.0 1273.8,1029.2 1275.0,1084.7 1276.2,1033.4 1277.5,1125.2 1278.8,968.0 1280.0,1085.5 1281.2,1072.0 1282.5,1048.9 1283.8,1076.7 1285.0,1144.4 1286.2,1064.9 1287.5,1121.5 1288.8,1056.1 1290.0,1040.1 1291.2,1097.5 1292.5,1024.9 1293.8,1119.2 1295.0,1071.8 1296.2,972.0 1297.5,1033.7 1298.8,1079.5 1300.0,1110.0 1301.2,1042.0 1302.5,1019.1 1303.8,1093.2 1305.0,1114.5 1306.2,1028.5 1307.5,1144.1 1308.8,1007.8 1310.0,1050.7 1311.2,1126.0 1312.5,1057.9 1313.8,1113.7 1315.0,1198.0 1316.2,1123.4 1317.5,1078.9 1318.8,1033.7 1320.0,1065.2 1321.2,1143.9 1322.5,1062.1 1323.8,1026.8 1325.0,1135.3 1326.2,1085.9 1327.5,1070.8 1328.8,1096.7 1330.0,1064.5 1331.2,1005.3 1332.5,1000.0 1333.8,1030.5 1335.0,1013.7 1336.2,1060.9 1337.5,1069.8 1338.8,1026.4 1340.0,1092.5 1341.2,1090.0 1342.5,1078.0 1343.8,975.6 1345.0,998.3 1346.2,1035.5 1347.5,1051.1 1348.8,1029.4 1350.0,1054.5 1351.2,1038.3 1352.5,1130.2 1353.8,1093.0 1355.0,1011.8 1356.2,1044.4 1357.5,1043.4 1358.8,1042.6 1360.0,1073.8 1361.2,1057.4 1362.5,1009.1 1363.8,1032.2 1365.0,1050.8 1366.2,1028.1 1367.5,1022.4 1368.8,1011.2 1370.0,1052.5 1371.2,1125.5 1372.5,1043.9 1373.8,1128.5 1375.0,975.0 1376.2,1062.6 1377.5,1036.7 1378.8,1088.3 1380.0,1189.0 1381.2,1020.6 1382.5,1028.1 1383.8,1061.4 1385.0,1080.8 1386.2,1051.1 1387.5,1056.8 1388.8,1085.4 1390.0,1138.0 1391.2,1111.6 1392.5,1121.7 1393.8,1105.8 1395.0,1029.5 1396.2,1046.7 1397.5,1020.1 1398.8,1044.1 1400.0,1058.0 1401.2,1000.5 1402.5,1034.9 1403.8,1059.9 1405.0,999.2 1406.2,1019.8 1407.5,1055.1 1408.8,1037.0 1410.0,1061.5 1411.2,1021.8 1412.5,1134.0 1413.8,998.8 1415.0,1036.9 1416.2,1076.9 1417.5,961.5 1418.8,1067.3 1420.0,983.8 1421.2,1078.1 1422.5,1002.8 1423.8,1069.4 1425.0,1072.0 1426.2,963.6 1427.5,1054.1 1428.8,982.7 1430.0,913.0 1431.2,964.6 1432.5,1009.8 1433.8,1034.0 1435.0,980.3 1436.2,960.1 1437.5,1010.0 1438.8,960.7 1440.0,977.8 1441.2,938.3 1442.5,990.1 1443.8,897.0 1445.0,996.7 1446.2,965.3 1447.5,995.9 1448.8,956.2 1450.0,948.8 1451.2,908.2 1452.5,922.2 1453.8,926.7 1455.0,938.9 1456.2,883.7 1457.5,916.6 1458.8,937.1 1460.0,946.6 1461.2,976.8 1462.5,1048.6 1463.8,912.0 1465.0,946.4 1466.2,910.9 1467.5,873.7 1468.8,899.1 1470.0,1008.5 1471.2,961.7 1472.5,964.9 1473.8,978.9 1475.0,923.6 1476.2,920.0 1477.5,972.7 1478.8,937.8 1480.0,879.4 1481.2,911.6 1482.5,992.9 1483.8,962.1 1485.0,885.9 1486.2,1023.5 1487.5,929.9 1488.8,956.6 1490.0,965.2 1491.2,926.9 1492.0,960.0 1495.0,1000.0 1497.0,880.0 1499.0,860.0 1501.0,850.0 1502.5,800.0 1504.6,748.6 1507.0,800.0 1509.0,850.0 1512.0,852.0 1514.0,900.0 1518.0,968.0 1521.0,990.0 1524.0,1010.0 1527.0,948.0 1530.0,1035.0 1533.0,1060.0 1535.5,1127.0 1538.5,965.0 1542.2,1127.0 1545.0,985.0 1546.2,1065.2 1547.5,1074.2 1548.8,1016.8 1550.0,1013.0 1551.2,1069.2 1552.5,988.8 1553.8,1089.4 1555.0,1028.3 1556.2,1036.3 1557.5,1084.3 1558.8,1021.6 1560.0,1039.6 1561.2,1064.2 1562.5,1117.0 1563.8,1050.9 1565.0,1049.3 1566.2,1051.1 1567.5,978.7 1568.8,1071.6 1570.0,1010.5 1571.2,1105.4 1572.5,1007.0 1573.8,1057.7 1575.0,1091.3 1576.2,1079.9 1577.5,1046.8 1578.8,985.9 1580.0,1006.8 1581.2,985.1 1582.5,981.4 1583.8,1077.5 1585.0,986.6 1586.2,1092.7 1587.5,1044.9 1588.8,1017.8 1590.0,1009.8 1591.2,1014.4 1592.5,1043.2 1593.8,966.5 1595.0,1104.0 1596.2,1008.2 1597.5,1096.4 1598.8,1003.7 1600.0,1070.3 1601.2,967.2 1602.5,1027.5 1603.8,996.2 1605.0,1097.8 1606.2,1020.5 1607.5,971.0 1608.8,1074.0 1610.0,1066.9 1611.2,1025.0 1612.5,1102.8 1613.8,965.0 1615.0,1037.2 1616.2,1057.4 1617.5,1091.4 1618.8,1056.7 1620.0,996.5 1621.2,1049.1 1622.5,1088.5 1623.8,1083.0 1625.0,1053.0 1626.2,1108.4 1627.5,1049.7 1628.8,1118.2 1630.0,1140.0 1631.2,1118.2 1632.5,1150.8 1633.8,1157.4 1635.0,1087.1 1636.2,1203.0 1637.5,1149.5 1638.8,1109.2 1640.0,1144.8 1641.2,1135.0 1642.5,1135.5 1643.8,1101.0 1645.0,1154.2 1646.2,1148.7 1647.5,1080.3 1648.8,1135.0 1650.0,1122.3 1651.2,1081.1 1652.5,1066.0 1653.8,1004.2 1655.0,1035.9 1656.2,1027.6 1657.5,1072.5 1658.8,1040.5 1660.0,1056.8 1661.2,994.8 1662.5,935.0 1663.8,1004.1 1665.0,986.7 1666.2,1031.7 1667.5,1039.0 1668.8,1069.8 1670.0,1014.1 1671.2,1004.0 1672.5,879.4 1673.8,943.0 1675.0,952.7 1676.2,946.5 1677.5,1007.1 1678.8,925.0 1680.0,949.8 1681.2,1062.1 1682.5,990.0 1683.8,959.0 1685.0,952.2 1686.2,937.6 1687.5,982.4 1688.8,1031.3 1690.0,1014.3 1691.2,973.8 1692.5,994.7 1693.8,1055.2 1695.0,968.3 1696.2,1007.5 1697.5,1076.3 1698.8,979.4 1700.0,1049.3 1701.2,1063.5 1702.5,947.0 1703.8,992.8 1705.0,987.3 1706.2,1061.6 1707.5,1037.7 1708.8,1083.0 1710.0,1013.1 1711.2,984.9 1712.5,936.0 1713.8,937.0 1715.0,1066.9 1716.2,991.9 1717.5,1053.9 1718.8,1016.8 1720.0,976.2 1721.2,1179.0 1722.5,1178.6 1723.8,992.1 1725.0,1019.9 1726.2,994.2 1727.5,1058.7 1728.8,1105.0 1730.0,1004.2 1731.2,1034.1 1732.5,1052.6 1733.8,1049.7 1735.0,1063.5 1736.2,942.0 1737.5,942.0 1738.8,1046.0 1740.0,1047.0 1741.2,1020.3 1742.5,1092.9 1743.8,1111.6 1745.0,1095.8 1746.2,1078.7 1747.5,991.7 1748.8,1059.4 1750.0,1113.3 1751.2,1060.9 1752.5,1060.9 1753.8,1165.0 1755.0,1110.3 1756.2,1029.1 1757.5,1091.9 1758.8,1098.1 1760.0,1057.5 1761.2,1035.9 1762.5,1119.0 1763.8,1032.3 1765.0,1052.2 1766.2,1046.2 1767.5,947.0 1768.8,1104.6 1770.0,1071.6 1771.2,1096.7 1772.5,1071.1 1773.8,1022.8 1775.0,1026.9 1776.2,1026.2 1777.5,1198.0 1778.8,998.1 1780.0,1074.7 1781.2,1122.9 1782.5,1061.2 1783.8,973.0 1785.0,1109.6 1786.2,1037.0 1787.5,1100.1 1788.8,1073.3 1790.0,1068.9 1791.2,1103.3 1792.5,1032.0 1793.8,1009.7 1795.0,1138.0 1796.2,1114.3 1797.5,1101.8 1798.8,1026.2 1800.0,1026.5 1801.2,1104.2 1802.5,1108.5 1803.8,1104.9 1805.0,1027.5 1806.2,1050.5 1807.5,1118.5 1808.8,1039.7 1810.0,1035.5 1811.2,1099.5 1812.5,1094.6 1813.8,1053.1 1815.0,1037.4 1816.2,1060.0 1817.5,1043.3 1818.8,1085.2 1820.0,1017.6 1821.2,1031.0 1822.5,1126.9 1823.8,1076.9 1825.0,1035.6 1826.2,1028.7 1827.5,1126.2 1828.8,1059.9 1830.0,1019.5 1831.2,1009.4 1832.5,1192.0 1833.8,1074.5 1835.0,1123.9 1836.2,1095.9 1837.5,1008.3 1838.8,1048.6 1840.0,1123.9 1841.2,1089.8 1842.5,1128.6 1843.8,1074.7 1845.0,1063.8 1846.2,1094.7 1847.5,1081.4 1848.8,1037.4 1850.0,1116.1 1851.2,1039.7 1852.5,1055.1 1853.8,1047.7 1855.0,1030.7 1856.2,1046.5 1857.5,1103.1 1858.8,1075.3 1860.0,1053.3 1861.2,1022.1 1862.5,1027.3 1863.8,1095.7 1865.0,1105.7 1866.2,1064.1 1867.5,1060.7 1868.8,1109.1 1870.0,1028.3 1871.2,1059.1 1872.5,1138.7 1873.8,1074.8 1875.0,1075.2 1876.2,1075.9 1877.5,1163.5 1878.8,1074.6 1880.0,1121.8 1881.2,1072.7 1882.5,1114.3 1883.8,1005.4 1885.0,942.0 1886.2,1043.7 1887.5,946.0 1888.8,1079.1 1890.0,1087.3 1891.2,1054.7 1892.5,1040.9 1893.8,1043.4 1895.0,952.0 1896.2,1030.6 1897.5,1020.7 1898.8,997.1 1900.0,1127.5 1901.2,1086.2 1902.5,1114.1 1903.8,1088.8 1905.0,1058.6 1906.2,1050.4 1907.5,1083.3 1908.8,1024.6 1910.0,1129.8 1911.2,1125.1 1912.5,1178.0 1913.8,1122.1 1915.0,1008.4 1916.2,1104.7 1917.5,1087.4 1918.8,1137.2 1920.0,1082.5 1921.2,1019.9 1922.5,1124.0 1923.8,998.9 1925.0,1071.9 1926.2,1081.2 1927.5,1034.1 1928.8,1079.0 1930.0,998.5 1931.2,1036.2 1932.5,1013.4 1933.8,1085.7 1935.0,1026.6 1936.2,1135.9 1937.5,1073.6 1938.8,1119.3 1940.0,1033.4 1941.2,1048.9 1942.5,1087.3 1943.8,1080.7 1945.0,1121.9 1946.2,1069.5 1947.5,1072.7 1948.8,1094.2 1950.0,1004.3 1951.2,1055.1 1952.5,1019.3 1953.8,1155.0 1955.0,1085.9 1956.2,1039.4 1957.5,1135.2 1958.8,1022.4 1960.0,1089.9 1961.2,1050.7 1962.5,1070.5 1963.8,1106.7 1965.0,1069.0 1966.2,1082.1 1967.5,1023.0 1968.8,1025.3 1970.0,1044.8 1971.2,1051.1 1972.5,1083.1 1973.8,1100.7 1975.0,996.4 1976.2,1119.4 1977.5,1029.5 1978.8,863.0 1980.0,1036.8 1981.2,1112.4 1982.5,1020.1 1983.8,1017.2 1985.0,1136.4 1986.2,1117.5 1987.5,1011.5 1988.8,1079.5 1990.0,1082.4 1991.2,1080.6 1992.5,1038.7 1993.8,1102.0 1995.0,1014.2 1996.2,1062.4 1997.5,1106.3 1998.8,949.0 2000.0,1026.1 2001.2,1053.1 2002.5,1087.3 2003.8,1048.5 2005.0,1139.9 2006.2,1035.0 2007.5,1028.2 2008.8,1041.3 2010.0,1068.8 2011.2,1011.8 2012.5,1105.5 2013.8,1075.3 2015.0,1104.3 2016.2,1044.2 2017.5,1012.8 2018.8,1066.0 2020.0,1060.3 2021.2,1112.0 2022.5,1097.4 2023.8,1039.7 2025.0,1118.2 2026.2,1004.5 2027.5,1019.8 2028.8,1107.0 2030.0,1066.9 2031.2,1106.8 2032.5,1054.3 2033.8,1140.1 2035.0,1084.7 2036.2,1043.9 2037.5,1134.5 2038.8,1107.7 2040.0,1014.6 2041.2,1136.5 2042.5,1025.0 2043.8,1048.6 2045.0,1095.5 2046.2,1031.4 2047.5,1031.2 2048.8,1021.1 2050.0,1056.6 2051.2,1085.8 2052.5,1039.4 2053.8,1048.2 2055.0,1188.6 2056.2,1057.1 2057.5,1099.3 2058.8,1005.9 2060.0,930.5 2061.2,1121.8 2062.5,1187.0 2063.8,1095.0 2065.0,1079.0 2066.2,1129.4 2067.5,1112.7 2068.8,1038.8 2070.0,1127.5 2071.2,1100.4 2072.5,1113.6 2073.8,1031.5 2075.0,1085.9 2076.2,1020.0 2077.5,1122.4 2078.8,1119.5 2080.0,1038.0 2081.2,1070.4 2082.5,1115.1 2083.8,995.5 2085.0,1009.9 2086.2,1041.3 2087.5,1112.9 2088.8,1010.5 2090.0,1109.7 2091.2,1007.1 2092.5,1112.5 2093.8,1097.7 2095.0,1061.7 2096.2,1112.3 2097.5,968.0 2098.8,1178.6 2100.0,1032.9 2101.2,1106.0 2102.5,1021.2 2103.8,1024.0 2105.0,1091.2 2106.2,1056.3 2107.5,1052.3 2108.8,1140.8 2110.0,1060.5 2111.2,996.2 2112.5,1045.3 2113.8,1062.7 2115.0,1069.7 2116.2,1105.3 2117.5,1140.5 2118.8,1087.7 2120.0,1076.5 2121.2,1001.8 2122.5,1109.9 2123.8,1099.5 2125.0,1041.9 2126.2,1056.1 2127.5,1122.3 2128.8,1054.0 2130.0,1099.7 2131.2,1052.3 2132.5,1108.1 2133.8,1018.8 2135.0,1079.2 2136.2,1043.8 2137.5,1051.5 2138.8,1034.5 2140.0,1046.1 2141.2,1078.1 2142.5,1041.0 2143.8,1053.8 2145.0,1163.5 2146.2,1031.1 2147.5,997.3 2148.8,1133.4 2150.0,1126.2 2151.2,1126.5 2152.5,1069.0 2153.8,1077.8 2155.0,1020.9 2156.2,1074.5 2157.5,1070.6 2158.8,1080.9 2160.0,1019.5 2161.2,1059.2 2162.5,1032.9 2163.8,1096.5 2165.0,1007.7 2166.2,1141.3 2167.5,1082.1 2168.8,1064.4 2170.0,1096.7 2171.2,1024.6 2172.5,1056.4 2173.8,1099.9 2175.0,1069.9 2176.2,1116.1 2177.5,1109.0 2178.8,1047.7 2180.0,994.6 2181.2,1040.6 2182.5,1178.0 2183.8,1077.5 2185.0,1035.9 2186.2,1079.2 2187.5,1009.7 2188.8,1075.5 2190.0,1025.7 2191.2,1053.1 2192.5,994.5 2193.8,1034.2 2195.0,1021.4 2196.2,1025.3 2197.5,1035.2 2198.8,1058.2 2200.0,1002.9 2201.2,981.0 2202.5,1027.8 2203.8,1051.8 2205.0,1002.0 2206.2,1112.2 2207.5,1023.9 2208.8,1121.6 2210.0,1086.2 2211.2,1126.1 2212.5,1026.2 2213.8,1101.4 2215.0,1048.7 2216.2,1084.8 2217.5,1023.0 2218.8,1076.0 2220.0,1042.6 2221.2,997.6 2222.5,1076.0 2223.8,1049.3 2225.0,1135.9 2226.2,1118.7 2227.5,1113.7 2228.8,985.0 2230.0,1017.6 2231.2,1132.7 2232.5,1185.0 2233.8,1042.3 2235.0,1083.5 2236.2,1036.4 2237.5,1135.4 2238.8,1140.7 2240.0,1010.7 2241.2,1040.6 2242.5,1163.5 2243.8,1050.3 2245.0,1055.3 2246.2,1079.7 2247.5,1052.4 2248.8,1087.0 2250.0,971.0 2251.2,1098.8" fill="none" stroke="#d66c00" stroke-width="6" stroke-linejoin="round" stroke-linecap="round"/>
<rect x="1455" y="70" width="91.5" height="1170" fill="#bebebe" fill-opacity="0.27"/>
<rect x="585" y="53.5" width="1681" height="1238.8" fill="none" stroke="#000" stroke-width="4.6"/>
<path d="M585.0 1292.3v26M737.8 1292.3v14.5M890.6 1292.3v26M1043.4 1292.3v14.5M1196.2 1292.3v26M1349.0 1292.3v14.5M1501.8 1292.3v26M1654.6 1292.3v14.5M1807.4 1292.3v26M1960.2 1292.3v14.5M2113.0 1292.3v26M2265.8 1292.3v14.5" stroke="#000" stroke-width="4.6" fill="none"/>
<g font-family="'Liberation Sans', Arial, sans-serif" font-weight="bold" fill="#000">
<text x="584.0" y="1388.6" font-size="69.5" text-anchor="middle">700</text>
<text x="889.6" y="1388.6" font-size="69.5" text-anchor="middle">800</text>
<text x="1195.2" y="1388.6" font-size="69.5" text-anchor="middle">900</text>
<text x="1500.8" y="1388.6" font-size="69.5" text-anchor="middle">1000</text>
<text x="1806.4" y="1388.6" font-size="69.5" text-anchor="middle">1100</text>
<text x="2112.0" y="1388.6" font-size="69.5" text-anchor="middle">1200</text>
<text x="1101.5" y="1520.5" font-size="75.8">Raman shift / cm<tspan font-size="32" dy="-36.5" dx="3" letter-spacing="2.5">-1</tspan></text>
<text transform="translate(501.6 673.5) rotate(-90)" font-size="75.7" text-anchor="middle">Intensity / a.u</text>
</g>
<g font-family="'Liberation Sans', Arial, sans-serif" font-weight="bold" fill="#000">
<text x="2239" y="289.3" font-size="62.5" word-spacing="4.6" text-anchor="end">100 <tspan font-family="'Liberation Serif', 'DejaVu Serif', serif" font-weight="normal">μ</tspan>g/mL 161 nm PS</text>
<text x="2239" y="827.7" font-size="62.5" word-spacing="4.6" text-anchor="end">100 <tspan font-family="'Liberation Serif', 'DejaVu Serif', serif" font-weight="normal">μ</tspan>g/mL 33 nm PS</text>
<text x="512" y="1941.4" font-size="100" text-anchor="end">161 nm PS</text>
<text x="512" y="2611.3" font-size="100" text-anchor="end">33 nm PS</text>
</g>
<g clip-path="url(#c1)">
<g filter="url(#gr1)">
<rect x="619" y="1688" width="796" height="500" fill="#7a745c"/>
<g filter="url(#b40)"><ellipse cx="1010" cy="1950" rx="250" ry="160" fill="#857a5f" opacity="0.35"/><ellipse cx="1250" cy="2110" rx="160" ry="70" fill="#857c60" opacity="0.4"/><ellipse cx="640" cy="1950" rx="70" ry="260" fill="#6c6c5c" opacity="0.45"/><ellipse cx="1330" cy="1730" rx="160" ry="60" fill="#72705e" opacity="0.4"/><ellipse cx="760" cy="1700" rx="200" ry="40" fill="#73705c" opacity="0.3"/><ellipse cx="720" cy="2060" rx="70" ry="90" fill="#6b6c5e" opacity="0.4"/><ellipse cx="1150" cy="1790" rx="60" ry="110" fill="#6e6e60" opacity="0.5" transform="rotate(-25 1150 1790)"/></g>
</g>
<g filter="url(#b8)" fill="none" stroke-linecap="round">
<path d="M1092,1694 C1105,1735 1112,1760 1128,1790 S1160,1826 1172,1845 S1186,1880 1193,1898" stroke="#4d5a66" stroke-width="21" opacity="0.50"/>
<path d="M1341,1783 C1345,1800 1352,1812 1372,1824 S1398,1836 1409,1840" stroke="#4d5a66" stroke-width="21" opacity="0.50"/>
<path d="M727,1975 C722,1995 724,2020 736,2045 S756,2082 776,2094" stroke="#4d5a66" stroke-width="18" opacity="0.45"/>
<path d="M966,1912 C968,1930 976,1942 998,1954 S1020,1964 1034,1966" stroke="#4d5a66" stroke-width="20" opacity="0.50"/>
<path d="M1312,2044 C1325,2058 1345,2066 1370,2078 S1392,2090 1400,2094" stroke="#4d5a66" stroke-width="18" opacity="0.45"/>
<path d="M1246,2118 C1255,2132 1270,2142 1296,2154" stroke="#4d5a66" stroke-width="15" opacity="0.41"/>
<path d="M985,1696 C992,1700 1000,1702 1008,1699" stroke="#4d5a66" stroke-width="15" opacity="0.41"/>
<path d="M1180,1886 C1186,1896 1196,1902 1210,1900" stroke="#4d5a66" stroke-width="15" opacity="0.41"/>
<path d="M1290,2120 C1300,2140 1315,2150 1325,2160" stroke="#4d5a66" stroke-width="15" opacity="0.36"/>
<ellipse cx="912" cy="2030" rx="34" ry="44" stroke="#5f6260" stroke-width="9" opacity="0.3"/>
</g>
<g filter="url(#b2)" fill="none" stroke-linecap="round">
<path d="M1092,1694 C1105,1735 1112,1760 1128,1790 S1160,1826 1172,1845 S1186,1880 1193,1898" stroke="#414d5a" stroke-width="5.6" opacity="0.47"/>
<path d="M1341,1783 C1345,1800 1352,1812 1372,1824 S1398,1836 1409,1840" stroke="#414d5a" stroke-width="5.6" opacity="0.47"/>
<path d="M727,1975 C722,1995 724,2020 736,2045 S756,2082 776,2094" stroke="#414d5a" stroke-width="4.8" opacity="0.42"/>
<path d="M966,1912 C968,1930 976,1942 998,1954 S1020,1964 1034,1966" stroke="#414d5a" stroke-width="5.2" opacity="0.47"/>
<path d="M1312,2044 C1325,2058 1345,2066 1370,2078 S1392,2090 1400,2094" stroke="#414d5a" stroke-width="4.8" opacity="0.42"/>
<path d="M1246,2118 C1255,2132 1270,2142 1296,2154" stroke="#414d5a" stroke-width="4.0" opacity="0.38"/>
<path d="M985,1696 C992,1700 1000,1702 1008,1699" stroke="#414d5a" stroke-width="4.0" opacity="0.38"/>
<path d="M1180,1886 C1186,1896 1196,1902 1210,1900" stroke="#414d5a" stroke-width="4.0" opacity="0.38"/>
<path d="M1290,2120 C1300,2140 1315,2150 1325,2160" stroke="#414d5a" stroke-width="4.0" opacity="0.34"/>
<path d="M813,1849 L823,1843" stroke="#3c444a" stroke-width="4.5" opacity="0.5"/>
<path d="M866,1864 L874,1860" stroke="#3c444a" stroke-width="3.6" opacity="0.5"/>
<path d="M982,1797 L992,1791" stroke="#3c444a" stroke-width="4.5" opacity="0.5"/>
<path d="M694,1822 L702,1818" stroke="#3c444a" stroke-width="3.6" opacity="0.5"/>
<path d="M1294,1929 L1304,1923" stroke="#3c444a" stroke-width="4.5" opacity="0.5"/>
<path d="M1111,1985 L1121,1979" stroke="#3c444a" stroke-width="4.5" opacity="0.5"/>
<path d="M1006,1900 L1014,1896" stroke="#3c444a" stroke-width="3.6" opacity="0.5"/>
<path d="M1014,1926 L1022,1922" stroke="#3c444a" stroke-width="3.6" opacity="0.5"/>
<path d="M1057,1892 L1063,1888" stroke="#3c444a" stroke-width="2.7" opacity="0.5"/>
<path d="M741,2007 L749,2003" stroke="#3c444a" stroke-width="3.6" opacity="0.5"/>
<path d="M762,2004 L768,2000" stroke="#3c444a" stroke-width="2.7" opacity="0.5"/>
<path d="M1257,1889 L1267,1883" stroke="#3c444a" stroke-width="4.5" opacity="0.5"/>
<path d="M1341,2048 L1349,2044" stroke="#3c444a" stroke-width="3.6" opacity="0.5"/>
<path d="M1266,2122 L1274,2118" stroke="#3c444a" stroke-width="3.6" opacity="0.5"/>
<path d="M1296,2142 L1304,2138" stroke="#3c444a" stroke-width="3.6" opacity="0.5"/>
<path d="M1381,2070 L1387,2066" stroke="#3c444a" stroke-width="2.7" opacity="0.5"/>
<path d="M1237,2107 L1243,2103" stroke="#3c444a" stroke-width="2.7" opacity="0.5"/>
<path d="M1326,1802 L1334,1798" stroke="#3c444a" stroke-width="3.6" opacity="0.5"/>
<path d="M1392,1822 L1398,1818" stroke="#3c444a" stroke-width="2.7" opacity="0.5"/>
</g>
<path d="M932,2010 L940,2028" stroke="#c9d6d8" stroke-width="5" stroke-linecap="round" filter="url(#b1)" opacity="0.9"/>
</g>
<g clip-path="url(#c2)"><g filter="url(#hm1)">
<rect x="1407" y="1688" width="792.5" height="499" fill="#787878"/>
<g filter="url(#b40)">
<ellipse cx="1565" cy="1790" rx="85" ry="110" fill="#b2b2b2" opacity="0.9"/>
<ellipse cx="1450" cy="1830" rx="50" ry="120" fill="#8f8f8f" opacity="0.6"/>
<ellipse cx="1500" cy="1930" rx="90" ry="70" fill="#a8a8a8" opacity="0.7"/>
<ellipse cx="1780" cy="1960" rx="120" ry="60" fill="#a8a8a8" opacity="0.6"/>
<ellipse cx="2120" cy="1800" rx="70" ry="60" fill="#9e9e9e" opacity="0.6"/>
<ellipse cx="1700" cy="2140" rx="300" ry="50" fill="#757575" opacity="0.9"/>
<ellipse cx="2050" cy="2100" rx="150" ry="80" fill="#787878" opacity="0.9"/>
<ellipse cx="1900" cy="1830" rx="110" ry="60" fill="#787878" opacity="0.7"/>
<ellipse cx="2150" cy="2000" rx="60" ry="80" fill="#7a7a7a" opacity="0.7"/>
<ellipse cx="1450" cy="2080" rx="60" ry="60" fill="#808080" opacity="0.6"/>
</g></g></g>
<g clip-path="url(#c3)">
<g filter="url(#gr2)">
<rect x="619.0" y="2279.0" width="796.5" height="501" fill="#a2c4aa"/>
<g filter="url(#b40)"><ellipse cx="640" cy="2500" rx="90" ry="260" fill="#9dbba2" opacity="0.8"/><ellipse cx="1100" cy="2600" rx="250" ry="150" fill="#a9c9ac" opacity="0.7"/></g>
</g>
<path d="M623,2467 L630,2465 L635,2459 L644,2455 L645,2454 L657,2451 L666,2454 L669,2450 L676,2447 L679,2442 L686,2434 L693,2425 L691,2412 L703,2404 L712,2396 L719,2389 L727,2375 L727,2369 L734,2362 L736,2354 L740,2345 L747,2333 L747,2326 L753,2315 L755,2308 L761,2300 L762,2292 L764,2286 L767,2281 M622,2663 L629,2656 L636,2649 L638,2643 L650,2637 L659,2620 L671,2608 L684,2599 L694,2584 L701,2569 L712,2554 L724,2540 L732,2521 L740,2513 L741,2506 L743,2496 L746,2488 L757,2476 L765,2473 L776,2462 L787,2456 L790,2446 L788,2435 L791,2428 L796,2416 L796,2408 L808,2400 L812,2388 L821,2380 L821,2373 L816,2363 L813,2353 L813,2341 L823,2333 L833,2318 L832,2312 L840,2303 L847,2298 L849,2290 L857,2288 L856,2281 M697,2704 L707,2692 L711,2682 L715,2669 L724,2654 L733,2642 L752,2633 L761,2617 L780,2609 L777,2597 L785,2585 L784,2572 L787,2562 L796,2550 L810,2544 L820,2534 L822,2520 L828,2513 L833,2500 L836,2486 L832,2475 L840,2468 L845,2461 L852,2455 L867,2447 L866,2435 L871,2423 L873,2408 L876,2394 L878,2390 L885,2384 L896,2373 L898,2365 L910,2355 L914,2343 L918,2332 L926,2321 L934,2311 L948,2300 L955,2289 L959,2281 M821,2739 L835,2721 L842,2700 L856,2680 L867,2661 L867,2650 L869,2640 L880,2631 L880,2619 L885,2609 L891,2600 L895,2592 L904,2579 L914,2568 L918,2558 L934,2549 L937,2544 L942,2525 L948,2513 L946,2498 L953,2483 L959,2479 L961,2471 L967,2461 L976,2457 L981,2445 L980,2437 L979,2425 L986,2413 L993,2406 L1003,2398 L1016,2389 L1022,2376 L1028,2371 L1032,2366 L1040,2361 L1038,2356 L1050,2347 L1057,2342 L1063,2337 L1066,2330 L1069,2316 L1072,2305 L1071,2296 L1072,2281 M880,2775 L888,2753 L897,2731 L911,2704 L926,2682 L928,2671 L942,2656 L950,2646 L956,2633 L965,2625 L971,2607 L984,2599 L989,2586 L998,2575 L1002,2561 L1006,2552 L1006,2542 L1015,2534 L1012,2526 L1017,2522 L1026,2514 L1027,2505 L1033,2492 L1045,2485 L1050,2473 L1057,2469 L1069,2459 L1072,2455 L1080,2450 L1081,2436 L1083,2426 L1089,2412 L1090,2402 L1089,2393 L1093,2381 L1094,2373 L1095,2361 M960,2777 L966,2764 L977,2747 L980,2735 L988,2718 L994,2709 L1001,2697 L1008,2685 L1017,2675 L1025,2663 L1032,2653 L1041,2640 L1044,2628 L1050,2623 L1062,2607 L1067,2599 L1080,2590 L1083,2576 L1087,2563 L1088,2551 L1094,2542 L1098,2531 L1107,2522 L1114,2512 L1117,2505 L1120,2492 L1133,2481 L1137,2470 L1148,2464 L1148,2454 L1158,2441 L1160,2434 L1170,2423 L1173,2411 L1186,2399 L1190,2384 L1203,2372 L1209,2360 L1214,2353 L1222,2340 L1228,2331 L1231,2315 L1243,2308 L1251,2292 L1259,2281 M1042,2757 L1058,2738 L1062,2720 L1071,2700 L1086,2685 L1089,2671 L1101,2660 L1104,2650 L1115,2635 L1119,2624 L1136,2611 L1146,2594 L1155,2586 L1160,2569 L1173,2560 L1177,2546 L1184,2531 L1196,2524 L1206,2514 L1214,2502 L1221,2497 L1230,2485 L1237,2471 L1239,2460 L1248,2445 L1250,2436 L1253,2422 L1261,2410 L1266,2402 L1273,2389 L1284,2381 L1283,2372 L1297,2366 L1298,2351 L1311,2346 L1319,2337 L1326,2327 L1326,2313 L1334,2301 L1350,2295 L1353,2281 M1152,2755 L1158,2746 L1175,2730 L1183,2716 L1193,2704 L1199,2686 L1204,2676 L1212,2660 L1227,2652 L1229,2637 L1245,2631 L1250,2618 L1259,2607 L1273,2597 L1282,2582 L1294,2570 L1301,2562 L1312,2549 L1320,2539 L1329,2523 L1328,2511 L1343,2503 L1345,2493 L1350,2481 L1358,2472 L1364,2463 L1370,2448 L1378,2442 L1386,2430 L1396,2420 L1400,2414 L1404,2402 L1414,2396 M1254,2775 L1261,2760 L1275,2751 L1286,2732 L1293,2721 L1299,2706 L1307,2696 L1320,2687 L1323,2671 L1334,2663 L1342,2657 L1351,2647 L1364,2634 L1367,2626 L1375,2610 L1386,2598 L1399,2586 L1400,2583 L1407,2575 L1410,2572 L1414,2565 M1345,2776 L1355,2762 L1364,2750 L1373,2741 L1382,2729 L1391,2718 L1396,2709 L1407,2696 L1414,2687 M615,2561 L627,2558 L631,2553 L634,2545 L641,2541 L645,2533 L654,2523 L658,2514 L663,2505 L665,2500 L672,2491 L682,2487 L689,2481 M758,2727 L757,2718 L767,2707 L770,2696 L775,2680 L786,2672 L796,2667 L814,2657 L818,2648 L824,2640 L833,2629 L842,2617 L845,2607 L851,2601 L856,2594 L860,2588 L863,2584 M1118,2401 L1120,2390 L1125,2379 L1136,2366 L1140,2355 L1148,2343 L1152,2340 L1164,2330 L1171,2320 L1179,2310 L1179,2300 L1183,2294 L1191,2281 M1297,2495 L1300,2483 L1317,2472 L1322,2459 L1329,2445 L1337,2439 L1339,2429 L1345,2417 L1351,2412 L1361,2396 L1366,2381 L1380,2369 L1387,2352 L1397,2346 L1401,2343 L1408,2334 L1414,2330 M1001,2774 L1012,2758 L1022,2741 L1027,2729 L1040,2709 L1042,2698 L1055,2689 L1065,2681 L1069,2673 M623,2379 L624,2370 L632,2368 L634,2361 L642,2351 L644,2342 L650,2334 L662,2328 L665,2318 L674,2306 L676,2301 L680,2291 L684,2281" transform="translate(5,2)" fill="none" stroke="#8fb196" stroke-width="6" stroke-linejoin="round" filter="url(#b2)" opacity="0.7"/>
<path d="M623,2467 L630,2465 L635,2459 L644,2455 L645,2454 L657,2451 L666,2454 L669,2450 L676,2447 L679,2442 L686,2434 L693,2425 L691,2412 L703,2404 L712,2396 L719,2389 L727,2375 L727,2369 L734,2362 L736,2354 L740,2345 L747,2333 L747,2326 L753,2315 L755,2308 L761,2300 L762,2292 L764,2286 L767,2281 M622,2663 L629,2656 L636,2649 L638,2643 L650,2637 L659,2620 L671,2608 L684,2599 L694,2584 L701,2569 L712,2554 L724,2540 L732,2521 L740,2513 L741,2506 L743,2496 L746,2488 L757,2476 L765,2473 L776,2462 L787,2456 L790,2446 L788,2435 L791,2428 L796,2416 L796,2408 L808,2400 L812,2388 L821,2380 L821,2373 L816,2363 L813,2353 L813,2341 L823,2333 L833,2318 L832,2312 L840,2303 L847,2298 L849,2290 L857,2288 L856,2281 M697,2704 L707,2692 L711,2682 L715,2669 L724,2654 L733,2642 L752,2633 L761,2617 L780,2609 L777,2597 L785,2585 L784,2572 L787,2562 L796,2550 L810,2544 L820,2534 L822,2520 L828,2513 L833,2500 L836,2486 L832,2475 L840,2468 L845,2461 L852,2455 L867,2447 L866,2435 L871,2423 L873,2408 L876,2394 L878,2390 L885,2384 L896,2373 L898,2365 L910,2355 L914,2343 L918,2332 L926,2321 L934,2311 L948,2300 L955,2289 L959,2281 M821,2739 L835,2721 L842,2700 L856,2680 L867,2661 L867,2650 L869,2640 L880,2631 L880,2619 L885,2609 L891,2600 L895,2592 L904,2579 L914,2568 L918,2558 L934,2549 L937,2544 L942,2525 L948,2513 L946,2498 L953,2483 L959,2479 L961,2471 L967,2461 L976,2457 L981,2445 L980,2437 L979,2425 L986,2413 L993,2406 L1003,2398 L1016,2389 L1022,2376 L1028,2371 L1032,2366 L1040,2361 L1038,2356 L1050,2347 L1057,2342 L1063,2337 L1066,2330 L1069,2316 L1072,2305 L1071,2296 L1072,2281 M880,2775 L888,2753 L897,2731 L911,2704 L926,2682 L928,2671 L942,2656 L950,2646 L956,2633 L965,2625 L971,2607 L984,2599 L989,2586 L998,2575 L1002,2561 L1006,2552 L1006,2542 L1015,2534 L1012,2526 L1017,2522 L1026,2514 L1027,2505 L1033,2492 L1045,2485 L1050,2473 L1057,2469 L1069,2459 L1072,2455 L1080,2450 L1081,2436 L1083,2426 L1089,2412 L1090,2402 L1089,2393 L1093,2381 L1094,2373 L1095,2361 M960,2777 L966,2764 L977,2747 L980,2735 L988,2718 L994,2709 L1001,2697 L1008,2685 L1017,2675 L1025,2663 L1032,2653 L1041,2640 L1044,2628 L1050,2623 L1062,2607 L1067,2599 L1080,2590 L1083,2576 L1087,2563 L1088,2551 L1094,2542 L1098,2531 L1107,2522 L1114,2512 L1117,2505 L1120,2492 L1133,2481 L1137,2470 L1148,2464 L1148,2454 L1158,2441 L1160,2434 L1170,2423 L1173,2411 L1186,2399 L1190,2384 L1203,2372 L1209,2360 L1214,2353 L1222,2340 L1228,2331 L1231,2315 L1243,2308 L1251,2292 L1259,2281 M1042,2757 L1058,2738 L1062,2720 L1071,2700 L1086,2685 L1089,2671 L1101,2660 L1104,2650 L1115,2635 L1119,2624 L1136,2611 L1146,2594 L1155,2586 L1160,2569 L1173,2560 L1177,2546 L1184,2531 L1196,2524 L1206,2514 L1214,2502 L1221,2497 L1230,2485 L1237,2471 L1239,2460 L1248,2445 L1250,2436 L1253,2422 L1261,2410 L1266,2402 L1273,2389 L1284,2381 L1283,2372 L1297,2366 L1298,2351 L1311,2346 L1319,2337 L1326,2327 L1326,2313 L1334,2301 L1350,2295 L1353,2281 M1152,2755 L1158,2746 L1175,2730 L1183,2716 L1193,2704 L1199,2686 L1204,2676 L1212,2660 L1227,2652 L1229,2637 L1245,2631 L1250,2618 L1259,2607 L1273,2597 L1282,2582 L1294,2570 L1301,2562 L1312,2549 L1320,2539 L1329,2523 L1328,2511 L1343,2503 L1345,2493 L1350,2481 L1358,2472 L1364,2463 L1370,2448 L1378,2442 L1386,2430 L1396,2420 L1400,2414 L1404,2402 L1414,2396 M1254,2775 L1261,2760 L1275,2751 L1286,2732 L1293,2721 L1299,2706 L1307,2696 L1320,2687 L1323,2671 L1334,2663 L1342,2657 L1351,2647 L1364,2634 L1367,2626 L1375,2610 L1386,2598 L1399,2586 L1400,2583 L1407,2575 L1410,2572 L1414,2565 M1345,2776 L1355,2762 L1364,2750 L1373,2741 L1382,2729 L1391,2718 L1396,2709 L1407,2696 L1414,2687 M615,2561 L627,2558 L631,2553 L634,2545 L641,2541 L645,2533 L654,2523 L658,2514 L663,2505 L665,2500 L672,2491 L682,2487 L689,2481 M758,2727 L757,2718 L767,2707 L770,2696 L775,2680 L786,2672 L796,2667 L814,2657 L818,2648 L824,2640 L833,2629 L842,2617 L845,2607 L851,2601 L856,2594 L860,2588 L863,2584 M1118,2401 L1120,2390 L1125,2379 L1136,2366 L1140,2355 L1148,2343 L1152,2340 L1164,2330 L1171,2320 L1179,2310 L1179,2300 L1183,2294 L1191,2281 M1297,2495 L1300,2483 L1317,2472 L1322,2459 L1329,2445 L1337,2439 L1339,2429 L1345,2417 L1351,2412 L1361,2396 L1366,2381 L1380,2369 L1387,2352 L1397,2346 L1401,2343 L1408,2334 L1414,2330 M1001,2774 L1012,2758 L1022,2741 L1027,2729 L1040,2709 L1042,2698 L1055,2689 L1065,2681 L1069,2673 M623,2379 L624,2370 L632,2368 L634,2361 L642,2351 L644,2342 L650,2334 L662,2328 L665,2318 L674,2306 L676,2301 L680,2291 L684,2281" fill="none" stroke="#b6eec2" stroke-width="14" stroke-linejoin="round" stroke-linecap="round" filter="url(#b4)" opacity="0.35"/>
<path d="M623,2467 L630,2465 L635,2459 L644,2455 L645,2454 L657,2451 L666,2454 L669,2450 L676,2447 L679,2442 L686,2434 L693,2425 L691,2412 L703,2404 L712,2396 L719,2389 L727,2375 L727,2369 L734,2362 L736,2354 L740,2345 L747,2333 L747,2326 L753,2315 L755,2308 L761,2300 L762,2292 L764,2286 L767,2281 M622,2663 L629,2656 L636,2649 L638,2643 L650,2637 L659,2620 L671,2608 L684,2599 L694,2584 L701,2569 L712,2554 L724,2540 L732,2521 L740,2513 L741,2506 L743,2496 L746,2488 L757,2476 L765,2473 L776,2462 L787,2456 L790,2446 L788,2435 L791,2428 L796,2416 L796,2408 L808,2400 L812,2388 L821,2380 L821,2373 L816,2363 L813,2353 L813,2341 L823,2333 L833,2318 L832,2312 L840,2303 L847,2298 L849,2290 L857,2288 L856,2281 M697,2704 L707,2692 L711,2682 L715,2669 L724,2654 L733,2642 L752,2633 L761,2617 L780,2609 L777,2597 L785,2585 L784,2572 L787,2562 L796,2550 L810,2544 L820,2534 L822,2520 L828,2513 L833,2500 L836,2486 L832,2475 L840,2468 L845,2461 L852,2455 L867,2447 L866,2435 L871,2423 L873,2408 L876,2394 L878,2390 L885,2384 L896,2373 L898,2365 L910,2355 L914,2343 L918,2332 L926,2321 L934,2311 L948,2300 L955,2289 L959,2281 M821,2739 L835,2721 L842,2700 L856,2680 L867,2661 L867,2650 L869,2640 L880,2631 L880,2619 L885,2609 L891,2600 L895,2592 L904,2579 L914,2568 L918,2558 L934,2549 L937,2544 L942,2525 L948,2513 L946,2498 L953,2483 L959,2479 L961,2471 L967,2461 L976,2457 L981,2445 L980,2437 L979,2425 L986,2413 L993,2406 L1003,2398 L1016,2389 L1022,2376 L1028,2371 L1032,2366 L1040,2361 L1038,2356 L1050,2347 L1057,2342 L1063,2337 L1066,2330 L1069,2316 L1072,2305 L1071,2296 L1072,2281 M880,2775 L888,2753 L897,2731 L911,2704 L926,2682 L928,2671 L942,2656 L950,2646 L956,2633 L965,2625 L971,2607 L984,2599 L989,2586 L998,2575 L1002,2561 L1006,2552 L1006,2542 L1015,2534 L1012,2526 L1017,2522 L1026,2514 L1027,2505 L1033,2492 L1045,2485 L1050,2473 L1057,2469 L1069,2459 L1072,2455 L1080,2450 L1081,2436 L1083,2426 L1089,2412 L1090,2402 L1089,2393 L1093,2381 L1094,2373 L1095,2361 M960,2777 L966,2764 L977,2747 L980,2735 L988,2718 L994,2709 L1001,2697 L1008,2685 L1017,2675 L1025,2663 L1032,2653 L1041,2640 L1044,2628 L1050,2623 L1062,2607 L1067,2599 L1080,2590 L1083,2576 L1087,2563 L1088,2551 L1094,2542 L1098,2531 L1107,2522 L1114,2512 L1117,2505 L1120,2492 L1133,2481 L1137,2470 L1148,2464 L1148,2454 L1158,2441 L1160,2434 L1170,2423 L1173,2411 L1186,2399 L1190,2384 L1203,2372 L1209,2360 L1214,2353 L1222,2340 L1228,2331 L1231,2315 L1243,2308 L1251,2292 L1259,2281 M1042,2757 L1058,2738 L1062,2720 L1071,2700 L1086,2685 L1089,2671 L1101,2660 L1104,2650 L1115,2635 L1119,2624 L1136,2611 L1146,2594 L1155,2586 L1160,2569 L1173,2560 L1177,2546 L1184,2531 L1196,2524 L1206,2514 L1214,2502 L1221,2497 L1230,2485 L1237,2471 L1239,2460 L1248,2445 L1250,2436 L1253,2422 L1261,2410 L1266,2402 L1273,2389 L1284,2381 L1283,2372 L1297,2366 L1298,2351 L1311,2346 L1319,2337 L1326,2327 L1326,2313 L1334,2301 L1350,2295 L1353,2281 M1152,2755 L1158,2746 L1175,2730 L1183,2716 L1193,2704 L1199,2686 L1204,2676 L1212,2660 L1227,2652 L1229,2637 L1245,2631 L1250,2618 L1259,2607 L1273,2597 L1282,2582 L1294,2570 L1301,2562 L1312,2549 L1320,2539 L1329,2523 L1328,2511 L1343,2503 L1345,2493 L1350,2481 L1358,2472 L1364,2463 L1370,2448 L1378,2442 L1386,2430 L1396,2420 L1400,2414 L1404,2402 L1414,2396 M1254,2775 L1261,2760 L1275,2751 L1286,2732 L1293,2721 L1299,2706 L1307,2696 L1320,2687 L1323,2671 L1334,2663 L1342,2657 L1351,2647 L1364,2634 L1367,2626 L1375,2610 L1386,2598 L1399,2586 L1400,2583 L1407,2575 L1410,2572 L1414,2565 M1345,2776 L1355,2762 L1364,2750 L1373,2741 L1382,2729 L1391,2718 L1396,2709 L1407,2696 L1414,2687 M615,2561 L627,2558 L631,2553 L634,2545 L641,2541 L645,2533 L654,2523 L658,2514 L663,2505 L665,2500 L672,2491 L682,2487 L689,2481 M758,2727 L757,2718 L767,2707 L770,2696 L775,2680 L786,2672 L796,2667 L814,2657 L818,2648 L824,2640 L833,2629 L842,2617 L845,2607 L851,2601 L856,2594 L860,2588 L863,2584 M1118,2401 L1120,2390 L1125,2379 L1136,2366 L1140,2355 L1148,2343 L1152,2340 L1164,2330 L1171,2320 L1179,2310 L1179,2300 L1183,2294 L1191,2281 M1297,2495 L1300,2483 L1317,2472 L1322,2459 L1329,2445 L1337,2439 L1339,2429 L1345,2417 L1351,2412 L1361,2396 L1366,2381 L1380,2369 L1387,2352 L1397,2346 L1401,2343 L1408,2334 L1414,2330 M1001,2774 L1012,2758 L1022,2741 L1027,2729 L1040,2709 L1042,2698 L1055,2689 L1065,2681 L1069,2673 M623,2379 L624,2370 L632,2368 L634,2361 L642,2351 L644,2342 L650,2334 L662,2328 L665,2318 L674,2306 L676,2301 L680,2291 L684,2281" fill="none" stroke="#b8f0c4" stroke-width="5" stroke-linejoin="round" stroke-linecap="round" filter="url(#b2)" opacity="0.95"/>
<path d="M630,2465 Q635,2448 651,2425 M669,2450 Q677,2429 680,2410 M679,2442 Q692,2419 704,2389 M740,2345 Q750,2328 754,2307 M753,2315 Q763,2295 766,2280 M755,2308 Q771,2288 787,2270 M764,2286 Q780,2253 796,2225 M684,2599 Q696,2583 693,2558 M724,2540 Q738,2525 739,2505 M741,2506 Q758,2492 771,2473 M791,2428 Q798,2399 807,2379 M816,2363 Q821,2342 827,2326 M823,2333 Q839,2304 851,2274 M857,2288 Q860,2277 874,2258 M715,2669 Q717,2645 734,2627 M733,2642 Q734,2631 749,2618 M787,2562 Q796,2538 801,2519 M796,2550 Q813,2531 817,2517 M822,2520 Q831,2503 843,2483 M845,2461 Q862,2448 873,2426 M852,2455 Q857,2445 878,2428 M878,2390 Q889,2360 894,2339 M896,2373 Q904,2363 928,2345 M910,2355 Q922,2340 933,2324 M934,2311 Q951,2302 962,2290 M880,2619 Q890,2596 897,2581 M891,2600 Q903,2573 900,2552 M904,2579 Q911,2564 919,2559 M914,2568 Q937,2546 946,2528 M953,2483 Q970,2469 971,2454 M967,2461 Q974,2444 983,2425 M986,2413 Q999,2382 1018,2354 M1063,2337 Q1080,2309 1089,2277 M1071,2296 Q1079,2280 1096,2257 M942,2656 Q940,2627 950,2600 M956,2633 Q980,2611 1004,2580 M1006,2552 Q1027,2514 1033,2487 M1015,2534 Q1025,2520 1044,2499 M1027,2505 Q1040,2487 1058,2474 M1045,2485 Q1048,2476 1063,2460 M1050,2473 Q1059,2437 1071,2411 M1090,2402 Q1104,2386 1103,2370 M1094,2373 Q1113,2355 1117,2327 M966,2764 Q978,2744 983,2732 M977,2747 Q994,2726 995,2709 M1001,2697 Q1001,2674 1013,2644 M1008,2685 Q1014,2663 1031,2646 M1025,2663 Q1038,2640 1064,2616 M1032,2653 Q1041,2620 1049,2586 M1062,2607 Q1076,2601 1083,2587 M1067,2599 Q1075,2586 1083,2574 M1088,2551 Q1105,2539 1125,2519 M1098,2531 Q1109,2503 1120,2480 M1120,2492 Q1133,2469 1141,2447 M1203,2372 Q1207,2357 1220,2342 M1214,2353 Q1236,2330 1242,2312 M1089,2671 Q1098,2662 1106,2645 M1101,2660 Q1122,2648 1130,2639 M1136,2611 Q1136,2587 1150,2565 M1146,2594 Q1156,2572 1172,2558 M1160,2569 Q1170,2543 1192,2521 M1173,2560 Q1183,2534 1187,2518 M1177,2546 Q1204,2521 1223,2504 M1196,2524 Q1215,2505 1222,2491 M1206,2514 Q1223,2498 1230,2484 M1239,2460 Q1250,2449 1265,2436 M1248,2445 Q1259,2424 1257,2403 M1266,2402 Q1279,2366 1287,2338 M1319,2337 Q1339,2312 1348,2290 M1158,2746 Q1170,2735 1181,2720 M1175,2730 Q1181,2703 1196,2687 M1193,2704 Q1202,2692 1208,2675 M1227,2652 Q1239,2630 1259,2616 M1250,2618 Q1253,2593 1258,2573 M1273,2597 Q1288,2589 1294,2580 M1294,2570 Q1310,2548 1328,2530 M1301,2562 Q1322,2539 1345,2513 M1312,2549 Q1328,2534 1337,2512 M1328,2511 Q1335,2499 1344,2484 M1370,2448 Q1370,2424 1384,2397 M1286,2732 Q1297,2721 1307,2701 M1364,2634 Q1362,2619 1374,2610 M1375,2610 Q1387,2581 1407,2551 M1399,2586 Q1416,2569 1429,2549 M1400,2583 Q1411,2566 1415,2546 M1364,2750 Q1380,2721 1380,2701 M641,2541 Q647,2514 666,2489 M645,2533 Q651,2505 664,2482 M658,2514 Q662,2482 675,2452 M682,2487 Q698,2466 711,2441 M833,2629 Q846,2602 873,2581 M845,2607 Q852,2601 857,2586 M851,2601 Q856,2585 869,2561 M860,2588 Q882,2568 899,2548 M1148,2343 Q1160,2326 1159,2314 M1164,2330 Q1173,2315 1184,2296 M1171,2320 Q1197,2301 1221,2276 M1300,2483 Q1314,2465 1338,2447 M1329,2445 Q1332,2421 1345,2399 M1339,2429 Q1357,2408 1382,2378 M1380,2369 Q1385,2344 1390,2322 M1401,2343 Q1420,2315 1439,2291 M1012,2758 Q1027,2737 1030,2707 M1027,2729 Q1040,2706 1067,2682 M1040,2709 Q1058,2697 1067,2678 M642,2351 Q645,2328 658,2299 M650,2334 Q656,2324 679,2308 M662,2328 Q672,2315 696,2291" fill="none" stroke="#b4eac0" stroke-width="2.6" stroke-linecap="round" filter="url(#b1)" opacity="0.7"/>
<path d="M654,2466 L664,2463 L681,2458 L681,2456 L696,2449 L705,2453 L720,2451 L718,2436 L727,2431 L727,2413 L745,2399 L762,2389 L769,2381 L776,2361 L775,2350 L780,2342 L785,2330 L792,2321 L795,2311 L804,2295 L810,2291 L803,2284 M664,2666 L676,2652 L681,2650 L690,2630 L709,2612 L734,2603 L738,2586 L762,2561 L772,2542 L779,2521 L790,2506 L799,2492 L793,2489 L804,2482 L815,2467 L833,2458 L839,2446 L834,2430 L838,2415 L854,2406 L855,2395 L867,2389 L862,2373 L868,2356 L856,2336 L875,2322 L887,2312 L887,2298 L899,2299 L891,2288 L901,2284 M738,2711 L747,2686 L757,2678 L771,2650 L790,2640 L807,2625 L817,2612 L827,2597 L827,2571 L836,2565 L851,2548 L858,2539 L874,2519 L868,2507 L875,2497 L875,2481 L889,2470 L892,2457 L905,2444 L915,2431 L917,2414 L915,2397 L932,2387 L931,2377 L946,2363 L952,2356 L957,2342 L981,2325 L987,2310 L985,2299 L1003,2280 M869,2739 L882,2711 L901,2682 L912,2659 L917,2653 L932,2630 L933,2625 L944,2602 L954,2597 L950,2581 L970,2562 L976,2554 L981,2542 L997,2517 L997,2500 L999,2480 L1011,2475 L1019,2467 L1036,2455 L1029,2442 L1026,2425 L1036,2415 L1045,2398 L1061,2390 L1076,2383 L1081,2366 L1088,2365 L1092,2350 L1108,2349 L1105,2335 L1116,2334 L1122,2311 L1124,2300 L1125,2285 M923,2783 L929,2746 L943,2713 L965,2684 L973,2669 L981,2652 L990,2632 L1008,2616 L1022,2596 L1017,2583 L1038,2572 L1048,2558 L1057,2542 L1058,2528 L1060,2524 L1062,2514 L1066,2495 L1085,2487 L1087,2479 L1095,2468 L1108,2457 L1108,2452 L1120,2436 L1126,2412 L1135,2403 L1125,2383 L1128,2369 L1130,2357 M1007,2772 L1019,2753 L1034,2733 L1038,2722 L1050,2703 L1051,2686 L1062,2674 L1074,2658 L1091,2649 L1098,2636 L1106,2614 L1114,2602 L1122,2589 L1133,2571 L1140,2561 L1149,2543 L1142,2530 L1155,2516 L1164,2502 L1180,2488 L1189,2481 L1194,2458 L1205,2446 L1216,2437 L1210,2425 L1227,2407 L1240,2392 L1253,2380 L1263,2362 L1272,2346 L1282,2331 L1281,2315 L1299,2299 L1315,2285 M1076,2754 L1097,2733 L1108,2702 L1120,2684 L1134,2670 L1139,2649 L1154,2637 L1162,2618 L1171,2597 L1198,2581 L1199,2570 L1220,2551 L1235,2533 L1237,2521 L1240,2511 L1254,2491 L1268,2480 L1272,2460 L1289,2447 L1293,2427 L1299,2417 L1298,2402 L1305,2385 L1321,2376 L1335,2360 L1343,2344 L1353,2339 L1368,2324 L1366,2311 L1377,2300 L1386,2282 M1184,2762 L1196,2745 L1217,2719 L1230,2702 L1230,2682 L1245,2669 L1262,2649 L1266,2633 L1279,2617 L1291,2614 L1310,2590 L1327,2573 L1338,2558 L1350,2545 L1352,2532 L1363,2518 L1373,2497 L1382,2481 L1395,2477 L1411,2457 L1417,2444 L1423,2427 L1442,2419 L1437,2404 L1451,2394 M1288,2777 L1304,2758 L1319,2742 L1334,2724 L1340,2705 L1347,2692 L1356,2677 L1373,2661 L1388,2650 L1390,2643 L1408,2622 L1419,2597 L1438,2590 L1436,2586 L1439,2574 L1444,2569 M1390,2773 L1402,2764 L1402,2746 L1423,2726 L1427,2719 L1451,2704 L1461,2686" fill="none" stroke="#b4ecc0" stroke-width="3.6" stroke-linejoin="round" stroke-linecap="round" filter="url(#b2)" opacity="0.75"/>
<g fill="#6a5c3c" filter="url(#b15)" opacity="0.82"><circle cx="1076" cy="2287" r="2.0"/><circle cx="1094" cy="2294" r="2.2"/><circle cx="1086" cy="2303" r="2.9"/><circle cx="1099" cy="2293" r="1.8"/><circle cx="1089" cy="2300" r="1.6"/><circle cx="1089" cy="2298" r="2.7"/><circle cx="1092" cy="2286" r="2.6"/><circle cx="1076" cy="2300" r="1.6"/><circle cx="1094" cy="2295" r="2.6"/><circle cx="1086" cy="2295" r="1.8"/><circle cx="1084" cy="2288" r="2.3"/><circle cx="1087" cy="2315" r="2.9"/><circle cx="1085" cy="2290" r="2.4"/><circle cx="1089" cy="2298" r="1.8"/><circle cx="1106" cy="2297" r="2.8"/><circle cx="1087" cy="2300" r="2.7"/><circle cx="1084" cy="2302" r="3.5"/><circle cx="1086" cy="2303" r="2.9"/><circle cx="1088" cy="2300" r="2.1"/><circle cx="1087" cy="2299" r="2.2"/><circle cx="1091" cy="2302" r="2.6"/><circle cx="1088" cy="2294" r="1.9"/><circle cx="1087" cy="2294" r="3.2"/><circle cx="1085" cy="2301" r="1.7"/><circle cx="1080" cy="2308" r="2.3"/><circle cx="1088" cy="2302" r="3.1"/><circle cx="1089" cy="2301" r="3.0"/><circle cx="1087" cy="2298" r="3.1"/><circle cx="1079" cy="2293" r="2.0"/><circle cx="1085" cy="2304" r="2.5"/><circle cx="1079" cy="2298" r="1.7"/><circle cx="1092" cy="2292" r="1.9"/><circle cx="1087" cy="2293" r="3.4"/><circle cx="1087" cy="2299" r="3.3"/><circle cx="1089" cy="2302" r="2.0"/><circle cx="1089" cy="2300" r="2.9"/><circle cx="1088" cy="2299" r="2.4"/><circle cx="1089" cy="2303" r="3.3"/><circle cx="1089" cy="2294" r="3.1"/><circle cx="1099" cy="2302" r="2.4"/><circle cx="1093" cy="2300" r="2.6"/><circle cx="1109" cy="2287" r="3.6"/><circle cx="1087" cy="2303" r="1.8"/><circle cx="1090" cy="2280" r="3.6"/><circle cx="1084" cy="2298" r="2.4"/><circle cx="1084" cy="2315" r="3.6"/><circle cx="1087" cy="2317" r="3.1"/><circle cx="1091" cy="2292" r="1.8"/><circle cx="1088" cy="2302" r="2.3"/><circle cx="1096" cy="2285" r="2.5"/><circle cx="1080" cy="2295" r="3.4"/><circle cx="1087" cy="2298" r="1.6"/><circle cx="1083" cy="2294" r="2.6"/><circle cx="1087" cy="2292" r="2.2"/><circle cx="1075" cy="2294" r="1.8"/><circle cx="1092" cy="2281" r="3.3"/><circle cx="1086" cy="2293" r="1.6"/><circle cx="1082" cy="2298" r="3.5"/><circle cx="1094" cy="2308" r="1.6"/><circle cx="1070" cy="2314" r="2.1"/><circle cx="1089" cy="2301" r="3.5"/><circle cx="1094" cy="2295" r="3.5"/><circle cx="1097" cy="2319" r="3.2"/><circle cx="1088" cy="2301" r="2.4"/><circle cx="1088" cy="2303" r="2.1"/><circle cx="1093" cy="2300" r="2.7"/><circle cx="1086" cy="2304" r="2.5"/><circle cx="1094" cy="2290" r="2.7"/><circle cx="1086" cy="2308" r="3.3"/><circle cx="1087" cy="2299" r="1.6"/><circle cx="1112" cy="2360" r="3.2"/><circle cx="1124" cy="2368" r="2.3"/><circle cx="1127" cy="2370" r="3.6"/><circle cx="1114" cy="2369" r="2.8"/><circle cx="1112" cy="2381" r="1.6"/><circle cx="1121" cy="2360" r="2.8"/><circle cx="1114" cy="2363" r="1.9"/><circle cx="1096" cy="2376" r="3.4"/><circle cx="1119" cy="2347" r="2.4"/><circle cx="1117" cy="2367" r="2.9"/><circle cx="1116" cy="2352" r="2.0"/><circle cx="1100" cy="2365" r="2.9"/><circle cx="1105" cy="2382" r="3.0"/><circle cx="1113" cy="2358" r="2.7"/><circle cx="1104" cy="2387" r="1.8"/><circle cx="1113" cy="2357" r="2.9"/><circle cx="1119" cy="2350" r="2.7"/><circle cx="1112" cy="2358" r="3.5"/><circle cx="1114" cy="2365" r="3.1"/><circle cx="1112" cy="2347" r="2.8"/><circle cx="1113" cy="2392" r="2.3"/><circle cx="1121" cy="2361" r="1.9"/><circle cx="1109" cy="2348" r="2.5"/><circle cx="1118" cy="2359" r="2.2"/><circle cx="1115" cy="2370" r="2.4"/><circle cx="1112" cy="2366" r="2.0"/><circle cx="1114" cy="2371" r="1.9"/><circle cx="1115" cy="2368" r="3.0"/><circle cx="1109" cy="2362" r="2.3"/><circle cx="1120" cy="2361" r="1.7"/><circle cx="1114" cy="2363" r="3.4"/><circle cx="1111" cy="2360" r="2.0"/><circle cx="1114" cy="2359" r="1.7"/><circle cx="1114" cy="2366" r="3.1"/><circle cx="1118" cy="2346" r="3.5"/><circle cx="1113" cy="2367" r="3.2"/><circle cx="1111" cy="2370" r="2.3"/><circle cx="1107" cy="2354" r="2.5"/><circle cx="1112" cy="2367" r="3.1"/><circle cx="1127" cy="2360" r="1.7"/><circle cx="1111" cy="2357" r="2.3"/><circle cx="1113" cy="2340" r="3.3"/><circle cx="1115" cy="2371" r="3.5"/><circle cx="1115" cy="2365" r="2.8"/><circle cx="1114" cy="2365" r="2.9"/><circle cx="1114" cy="2365" r="2.3"/><circle cx="1113" cy="2363" r="2.2"/><circle cx="1113" cy="2368" r="2.5"/><circle cx="1106" cy="2372" r="2.7"/><circle cx="1114" cy="2364" r="3.3"/><circle cx="1115" cy="2366" r="2.0"/><circle cx="1113" cy="2369" r="2.0"/><circle cx="1114" cy="2364" r="2.0"/><circle cx="1116" cy="2382" r="1.8"/><circle cx="1114" cy="2367" r="3.3"/><circle cx="1130" cy="2340" r="3.1"/><circle cx="1126" cy="2365" r="1.8"/><circle cx="1114" cy="2361" r="2.1"/><circle cx="1120" cy="2385" r="3.4"/><circle cx="1115" cy="2368" r="2.3"/><circle cx="1114" cy="2367" r="2.7"/><circle cx="1115" cy="2344" r="1.8"/><circle cx="1121" cy="2369" r="3.0"/><circle cx="1123" cy="2367" r="1.9"/><circle cx="1110" cy="2367" r="2.5"/><circle cx="1098" cy="2359" r="3.4"/><circle cx="1106" cy="2375" r="2.0"/><circle cx="1110" cy="2363" r="3.3"/><circle cx="1123" cy="2385" r="2.7"/><circle cx="1110" cy="2359" r="3.4"/><circle cx="1113" cy="2365" r="2.8"/><circle cx="1111" cy="2369" r="3.0"/><circle cx="1116" cy="2377" r="3.3"/><circle cx="1117" cy="2362" r="3.0"/><circle cx="1111" cy="2363" r="3.0"/><circle cx="1113" cy="2359" r="2.8"/><circle cx="1114" cy="2355" r="2.1"/><circle cx="1113" cy="2358" r="2.1"/><circle cx="1120" cy="2349" r="3.5"/><circle cx="1119" cy="2379" r="3.1"/><circle cx="1110" cy="2368" r="3.4"/><circle cx="1119" cy="2371" r="2.5"/><circle cx="1109" cy="2361" r="1.7"/><circle cx="1104" cy="2361" r="3.5"/><circle cx="1114" cy="2364" r="3.4"/><circle cx="1093" cy="2362" r="2.4"/><circle cx="1109" cy="2368" r="2.4"/><circle cx="1116" cy="2369" r="3.2"/><circle cx="1121" cy="2361" r="1.6"/><circle cx="1116" cy="2367" r="3.4"/><circle cx="1120" cy="2325" r="3.5"/><circle cx="1124" cy="2329" r="3.6"/><circle cx="1130" cy="2332" r="2.2"/><circle cx="1121" cy="2326" r="2.5"/><circle cx="1123" cy="2330" r="2.2"/><circle cx="1128" cy="2338" r="1.9"/><circle cx="1125" cy="2330" r="3.1"/><circle cx="1126" cy="2331" r="2.8"/><circle cx="1130" cy="2354" r="1.8"/><circle cx="1134" cy="2331" r="2.5"/><circle cx="1124" cy="2343" r="1.6"/><circle cx="1131" cy="2330" r="3.0"/><circle cx="1126" cy="2330" r="1.7"/><circle cx="1128" cy="2335" r="1.8"/><circle cx="1127" cy="2334" r="2.6"/><circle cx="1124" cy="2333" r="3.6"/><circle cx="1127" cy="2332" r="2.3"/><circle cx="1123" cy="2329" r="3.0"/><circle cx="1127" cy="2329" r="2.6"/><circle cx="1131" cy="2331" r="3.3"/><circle cx="1127" cy="2336" r="2.0"/><circle cx="1127" cy="2331" r="2.6"/><circle cx="1117" cy="2315" r="1.7"/><circle cx="1123" cy="2338" r="1.8"/><circle cx="1121" cy="2333" r="3.3"/><circle cx="1126" cy="2331" r="2.7"/><circle cx="1126" cy="2329" r="2.0"/><circle cx="1126" cy="2333" r="2.1"/><circle cx="1124" cy="2326" r="1.8"/><circle cx="1119" cy="2336" r="2.9"/><circle cx="1041" cy="2368" r="3.2"/><circle cx="1041" cy="2364" r="2.7"/><circle cx="1048" cy="2365" r="2.6"/><circle cx="1039" cy="2367" r="2.4"/><circle cx="1043" cy="2365" r="3.0"/><circle cx="1043" cy="2362" r="2.3"/><circle cx="1038" cy="2369" r="2.5"/><circle cx="1044" cy="2366" r="2.5"/><circle cx="1044" cy="2366" r="1.8"/><circle cx="1043" cy="2369" r="3.5"/><circle cx="1043" cy="2364" r="1.7"/><circle cx="1043" cy="2367" r="2.0"/><circle cx="1044" cy="2370" r="3.0"/><circle cx="1044" cy="2367" r="3.3"/><circle cx="1043" cy="2365" r="2.5"/><circle cx="1042" cy="2371" r="1.6"/><circle cx="1046" cy="2375" r="2.1"/><circle cx="1043" cy="2364" r="1.8"/><circle cx="628" cy="2501" r="2.4"/><circle cx="633" cy="2491" r="2.0"/><circle cx="633" cy="2517" r="3.2"/><circle cx="636" cy="2486" r="3.3"/><circle cx="635" cy="2494" r="3.6"/><circle cx="640" cy="2491" r="2.3"/><circle cx="628" cy="2498" r="3.2"/><circle cx="636" cy="2498" r="2.8"/><circle cx="635" cy="2495" r="3.2"/><circle cx="648" cy="2501" r="2.7"/><circle cx="645" cy="2501" r="3.2"/><circle cx="639" cy="2484" r="2.3"/><circle cx="636" cy="2495" r="2.7"/><circle cx="636" cy="2493" r="1.8"/><circle cx="644" cy="2502" r="3.0"/><circle cx="636" cy="2499" r="2.0"/><circle cx="631" cy="2512" r="3.5"/><circle cx="634" cy="2512" r="3.3"/><circle cx="635" cy="2500" r="1.8"/><circle cx="633" cy="2492" r="2.9"/><circle cx="623" cy="2489" r="3.4"/><circle cx="651" cy="2500" r="2.5"/><circle cx="634" cy="2494" r="1.9"/><circle cx="643" cy="2473" r="3.2"/><circle cx="637" cy="2494" r="3.4"/><circle cx="635" cy="2497" r="3.5"/><circle cx="635" cy="2495" r="1.9"/><circle cx="636" cy="2502" r="3.0"/><circle cx="637" cy="2502" r="2.6"/><circle cx="635" cy="2494" r="3.3"/><circle cx="635" cy="2494" r="2.8"/><circle cx="640" cy="2504" r="1.7"/><circle cx="628" cy="2477" r="2.1"/><circle cx="638" cy="2494" r="2.0"/><circle cx="641" cy="2494" r="3.2"/><circle cx="632" cy="2500" r="2.6"/><circle cx="631" cy="2507" r="1.8"/><circle cx="630" cy="2492" r="2.8"/><circle cx="631" cy="2500" r="2.5"/><circle cx="642" cy="2491" r="3.4"/><circle cx="634" cy="2496" r="2.5"/><circle cx="632" cy="2492" r="1.7"/><circle cx="636" cy="2496" r="2.1"/><circle cx="633" cy="2476" r="2.5"/><circle cx="636" cy="2494" r="2.6"/><circle cx="631" cy="2493" r="3.2"/><circle cx="638" cy="2483" r="3.2"/><circle cx="641" cy="2510" r="3.1"/><circle cx="634" cy="2495" r="1.7"/><circle cx="631" cy="2492" r="2.1"/><circle cx="645" cy="2324" r="1.8"/><circle cx="646" cy="2321" r="1.9"/><circle cx="647" cy="2321" r="2.8"/><circle cx="648" cy="2320" r="2.1"/><circle cx="648" cy="2326" r="3.3"/><circle cx="648" cy="2320" r="2.8"/><circle cx="836" cy="2326" r="1.9"/><circle cx="834" cy="2328" r="3.5"/><circle cx="834" cy="2331" r="2.0"/><circle cx="834" cy="2336" r="2.3"/><circle cx="834" cy="2330" r="2.2"/><circle cx="836" cy="2330" r="1.6"/><circle cx="838" cy="2324" r="3.0"/><circle cx="837" cy="2327" r="2.5"/><circle cx="837" cy="2328" r="2.4"/><circle cx="789" cy="2298" r="2.5"/><circle cx="787" cy="2298" r="2.6"/><circle cx="788" cy="2297" r="3.3"/><circle cx="788" cy="2297" r="3.3"/><circle cx="745" cy="2449" r="3.2"/><circle cx="748" cy="2450" r="1.9"/><circle cx="750" cy="2448" r="2.9"/><circle cx="754" cy="2434" r="3.4"/><circle cx="754" cy="2453" r="1.7"/><circle cx="754" cy="2442" r="2.4"/><circle cx="751" cy="2451" r="2.9"/><circle cx="749" cy="2447" r="3.5"/><circle cx="750" cy="2446" r="2.9"/><circle cx="749" cy="2446" r="2.1"/><circle cx="798" cy="2437" r="2.0"/><circle cx="796" cy="2442" r="2.3"/><circle cx="805" cy="2436" r="2.4"/><circle cx="794" cy="2431" r="2.6"/><circle cx="798" cy="2439" r="1.7"/><circle cx="796" cy="2438" r="2.3"/><circle cx="803" cy="2447" r="2.4"/><circle cx="798" cy="2441" r="2.6"/><circle cx="796" cy="2441" r="2.3"/><circle cx="793" cy="2445" r="2.2"/><circle cx="730" cy="2399" r="2.9"/><circle cx="731" cy="2395" r="3.5"/><circle cx="731" cy="2396" r="3.6"/><circle cx="731" cy="2396" r="2.7"/><circle cx="1255" cy="2650" r="1.6"/><circle cx="1262" cy="2665" r="2.3"/><circle cx="1261" cy="2649" r="2.1"/><circle cx="1262" cy="2644" r="2.0"/><circle cx="1253" cy="2653" r="3.3"/><circle cx="1258" cy="2651" r="3.5"/><circle cx="1254" cy="2656" r="2.3"/><circle cx="1261" cy="2649" r="3.6"/><circle cx="1255" cy="2651" r="3.4"/><circle cx="1256" cy="2654" r="2.6"/><circle cx="1268" cy="2663" r="2.1"/><circle cx="1270" cy="2655" r="2.1"/><circle cx="1260" cy="2659" r="2.4"/><circle cx="1269" cy="2650" r="2.9"/><circle cx="1250" cy="2653" r="2.3"/><circle cx="1256" cy="2647" r="2.5"/><circle cx="1258" cy="2652" r="3.3"/><circle cx="1253" cy="2657" r="1.7"/><circle cx="1264" cy="2647" r="2.7"/><circle cx="1260" cy="2643" r="3.2"/><circle cx="1258" cy="2653" r="1.9"/><circle cx="1248" cy="2655" r="2.3"/><circle cx="1257" cy="2652" r="2.0"/><circle cx="1265" cy="2650" r="2.0"/><circle cx="1251" cy="2668" r="2.1"/><circle cx="1268" cy="2654" r="2.5"/><circle cx="1251" cy="2660" r="2.5"/><circle cx="1256" cy="2647" r="3.0"/><circle cx="1266" cy="2664" r="2.2"/><circle cx="1267" cy="2656" r="2.3"/><circle cx="1258" cy="2650" r="2.0"/><circle cx="1275" cy="2640" r="2.3"/><circle cx="1253" cy="2659" r="2.7"/><circle cx="1255" cy="2657" r="1.7"/><circle cx="1257" cy="2655" r="2.6"/><circle cx="1261" cy="2657" r="2.6"/><circle cx="1248" cy="2649" r="1.9"/><circle cx="1253" cy="2653" r="1.6"/><circle cx="1263" cy="2660" r="2.8"/><circle cx="1260" cy="2669" r="2.5"/><circle cx="1251" cy="2656" r="2.1"/><circle cx="1257" cy="2653" r="2.9"/><circle cx="1281" cy="2663" r="3.2"/><circle cx="1249" cy="2642" r="3.4"/><circle cx="1255" cy="2647" r="2.9"/><circle cx="1253" cy="2662" r="3.1"/><circle cx="1268" cy="2641" r="2.8"/><circle cx="1276" cy="2654" r="2.9"/><circle cx="1256" cy="2668" r="1.6"/><circle cx="1254" cy="2659" r="2.5"/><circle cx="1254" cy="2636" r="3.1"/><circle cx="1252" cy="2639" r="3.2"/><circle cx="1257" cy="2648" r="3.1"/><circle cx="1259" cy="2670" r="2.5"/><circle cx="1260" cy="2655" r="3.3"/><circle cx="1242" cy="2660" r="2.1"/><circle cx="1252" cy="2638" r="2.3"/><circle cx="1257" cy="2654" r="3.2"/><circle cx="1259" cy="2655" r="2.3"/><circle cx="1242" cy="2639" r="3.2"/><circle cx="1277" cy="2633" r="1.8"/><circle cx="1280" cy="2630" r="2.2"/><circle cx="1273" cy="2634" r="2.2"/><circle cx="1283" cy="2629" r="3.0"/><circle cx="1276" cy="2638" r="3.0"/><circle cx="1277" cy="2630" r="1.7"/><circle cx="1276" cy="2634" r="2.3"/><circle cx="1277" cy="2629" r="3.1"/><circle cx="1276" cy="2633" r="1.7"/><circle cx="1282" cy="2631" r="3.1"/><circle cx="1280" cy="2631" r="3.1"/><circle cx="1276" cy="2631" r="3.6"/><circle cx="1276" cy="2624" r="2.9"/><circle cx="1279" cy="2631" r="2.1"/><circle cx="1282" cy="2636" r="2.9"/><circle cx="1278" cy="2631" r="3.2"/><circle cx="1277" cy="2515" r="2.1"/><circle cx="1278" cy="2522" r="1.7"/><circle cx="1273" cy="2516" r="2.9"/><circle cx="1276" cy="2515" r="3.2"/><circle cx="1274" cy="2514" r="1.7"/><circle cx="1273" cy="2515" r="2.8"/><circle cx="1277" cy="2520" r="2.6"/><circle cx="1277" cy="2520" r="3.1"/><circle cx="1272" cy="2516" r="1.9"/><circle cx="1299" cy="2375" r="3.1"/><circle cx="1298" cy="2380" r="3.5"/><circle cx="1301" cy="2379" r="2.8"/><circle cx="1299" cy="2382" r="2.0"/><circle cx="1302" cy="2376" r="1.7"/><circle cx="1296" cy="2375" r="2.8"/><circle cx="1304" cy="2369" r="2.4"/><circle cx="960" cy="2761" r="2.1"/><circle cx="968" cy="2759" r="1.8"/><circle cx="968" cy="2755" r="1.7"/><circle cx="964" cy="2761" r="3.2"/><circle cx="967" cy="2757" r="2.7"/><circle cx="967" cy="2761" r="2.3"/><circle cx="962" cy="2758" r="2.7"/><circle cx="969" cy="2757" r="1.6"/><circle cx="968" cy="2758" r="2.1"/><circle cx="1154" cy="2729" r="2.7"/><circle cx="1165" cy="2734" r="3.4"/><circle cx="1162" cy="2728" r="2.8"/><circle cx="1161" cy="2727" r="2.3"/><circle cx="1163" cy="2727" r="3.0"/><circle cx="1164" cy="2736" r="2.6"/><circle cx="1162" cy="2727" r="2.1"/><circle cx="1161" cy="2729" r="3.0"/><circle cx="1162" cy="2728" r="1.9"/><circle cx="1162" cy="2721" r="2.0"/><circle cx="1176" cy="2694" r="2.5"/><circle cx="1176" cy="2687" r="2.8"/><circle cx="1172" cy="2696" r="2.9"/><circle cx="1177" cy="2693" r="3.2"/><circle cx="1179" cy="2696" r="1.9"/><circle cx="1179" cy="2693" r="1.6"/><circle cx="792" cy="2558" r="2.9"/><circle cx="790" cy="2559" r="1.9"/><circle cx="794" cy="2551" r="1.7"/><circle cx="792" cy="2552" r="1.7"/><circle cx="793" cy="2564" r="2.7"/><circle cx="793" cy="2555" r="3.4"/><circle cx="793" cy="2555" r="2.5"/><circle cx="793" cy="2559" r="2.1"/><circle cx="793" cy="2558" r="2.7"/><circle cx="741" cy="2594" r="2.2"/><circle cx="740" cy="2592" r="1.8"/><circle cx="738" cy="2582" r="2.5"/><circle cx="743" cy="2594" r="1.8"/><circle cx="745" cy="2598" r="3.0"/><circle cx="739" cy="2595" r="1.6"/><circle cx="668" cy="2637" r="2.0"/><circle cx="672" cy="2639" r="2.7"/><circle cx="668" cy="2638" r="3.1"/><circle cx="668" cy="2639" r="2.0"/><circle cx="667" cy="2639" r="3.0"/><circle cx="713" cy="2634" r="1.8"/><circle cx="712" cy="2633" r="3.5"/><circle cx="709" cy="2629" r="2.4"/><circle cx="713" cy="2633" r="1.9"/><circle cx="713" cy="2631" r="3.2"/><circle cx="652" cy="2608" r="1.7"/><circle cx="649" cy="2608" r="2.5"/><circle cx="650" cy="2610" r="3.6"/><circle cx="830" cy="2669" r="2.3"/><circle cx="833" cy="2667" r="2.8"/><circle cx="831" cy="2665" r="2.3"/><circle cx="834" cy="2668" r="3.2"/><circle cx="1001" cy="2685" r="3.1"/><circle cx="1007" cy="2686" r="2.4"/><circle cx="1010" cy="2688" r="2.6"/><circle cx="1004" cy="2673" r="3.3"/><circle cx="1009" cy="2687" r="3.0"/><circle cx="1001" cy="2684" r="2.1"/><circle cx="1004" cy="2682" r="3.2"/><circle cx="1003" cy="2685" r="2.8"/><circle cx="1083" cy="2665" r="2.2"/><circle cx="1085" cy="2665" r="3.5"/><circle cx="1083" cy="2664" r="3.4"/><circle cx="1085" cy="2663" r="2.1"/><circle cx="1083" cy="2663" r="3.4"/><circle cx="1083" cy="2664" r="1.9"/><circle cx="1111" cy="2617" r="3.5"/><circle cx="1110" cy="2612" r="1.6"/><circle cx="1111" cy="2617" r="2.0"/><circle cx="1112" cy="2616" r="2.5"/><circle cx="1113" cy="2612" r="1.8"/><circle cx="1114" cy="2621" r="2.4"/><circle cx="990" cy="2605" r="3.4"/><circle cx="987" cy="2606" r="2.4"/><circle cx="990" cy="2607" r="2.1"/><circle cx="989" cy="2602" r="1.9"/><circle cx="989" cy="2605" r="2.1"/><circle cx="994" cy="2604" r="2.6"/><circle cx="1222" cy="2539" r="2.1"/><circle cx="1222" cy="2542" r="2.9"/><circle cx="1225" cy="2542" r="1.7"/><circle cx="1223" cy="2542" r="1.8"/><circle cx="1224" cy="2543" r="3.5"/><circle cx="1205" cy="2631" r="3.0"/><circle cx="1203" cy="2635" r="1.8"/><circle cx="1206" cy="2631" r="3.5"/><circle cx="1205" cy="2633" r="2.4"/><circle cx="1208" cy="2629" r="2.7"/><circle cx="1203" cy="2631" r="2.2"/><circle cx="1154" cy="2449" r="3.6"/><circle cx="1152" cy="2450" r="2.6"/><circle cx="1152" cy="2451" r="2.2"/><circle cx="1154" cy="2450" r="2.9"/><circle cx="1156" cy="2450" r="2.5"/><circle cx="1126" cy="2448" r="2.2"/><circle cx="1126" cy="2446" r="2.6"/><circle cx="1123" cy="2439" r="2.9"/><circle cx="1125" cy="2449" r="3.6"/><circle cx="1094" cy="2529" r="1.8"/><circle cx="1090" cy="2533" r="2.2"/><circle cx="1096" cy="2533" r="2.3"/><circle cx="1094" cy="2533" r="2.8"/><circle cx="1088" cy="2532" r="3.5"/><circle cx="1028" cy="2518" r="3.4"/><circle cx="1028" cy="2514" r="2.4"/><circle cx="1032" cy="2518" r="3.2"/><circle cx="1028" cy="2517" r="2.5"/><circle cx="964" cy="2507" r="2.6"/><circle cx="964" cy="2507" r="2.6"/><circle cx="964" cy="2506" r="2.5"/><circle cx="959" cy="2479" r="2.1"/><circle cx="953" cy="2478" r="1.6"/><circle cx="952" cy="2477" r="3.3"/><circle cx="956" cy="2481" r="1.9"/><circle cx="879" cy="2511" r="2.3"/><circle cx="885" cy="2506" r="3.2"/><circle cx="881" cy="2508" r="2.4"/><circle cx="831" cy="2476" r="1.8"/><circle cx="832" cy="2475" r="2.5"/><circle cx="831" cy="2477" r="2.1"/><circle cx="829" cy="2476" r="3.0"/><circle cx="1286" cy="2766" r="1.6"/><circle cx="1284" cy="2765" r="2.5"/><circle cx="1288" cy="2762" r="3.2"/><circle cx="1286" cy="2768" r="2.7"/><circle cx="1288" cy="2770" r="2.2"/><circle cx="1193" cy="2690" r="2.1"/><circle cx="1195" cy="2689" r="2.3"/><circle cx="1197" cy="2689" r="2.7"/><circle cx="1197" cy="2688" r="2.0"/><circle cx="1045" cy="2722" r="1.8"/><circle cx="1044" cy="2725" r="2.1"/><circle cx="1048" cy="2722" r="2.4"/><circle cx="1044" cy="2725" r="2.9"/><circle cx="923" cy="2658" r="3.0"/><circle cx="923" cy="2656" r="2.5"/><circle cx="924" cy="2660" r="2.6"/><circle cx="887" cy="2673" r="3.0"/><circle cx="886" cy="2674" r="3.2"/><circle cx="884" cy="2673" r="1.9"/><circle cx="1330" cy="2424" r="1.9"/><circle cx="1329" cy="2424" r="1.8"/><circle cx="1329" cy="2424" r="1.9"/><circle cx="1351" cy="2386" r="2.4"/><circle cx="1351" cy="2384" r="2.8"/><circle cx="1351" cy="2380" r="1.8"/><circle cx="1384" cy="2517" r="3.3"/><circle cx="1381" cy="2516" r="3.2"/><circle cx="1382" cy="2512" r="2.9"/><circle cx="934" cy="2356" r="2.3"/><circle cx="933" cy="2357" r="2.0"/><circle cx="934" cy="2355" r="1.9"/><circle cx="1229" cy="2395" r="2.5"/><circle cx="1228" cy="2395" r="3.1"/><circle cx="1229" cy="2398" r="1.8"/><circle cx="1127" cy="2489" r="2.3"/><circle cx="1130" cy="2490" r="2.0"/><circle cx="1130" cy="2491" r="2.4"/><circle cx="864" cy="2583" r="2.0"/><circle cx="866" cy="2582" r="2.9"/><circle cx="863" cy="2584" r="2.3"/><circle cx="1313" cy="2711" r="2.3"/><circle cx="1313" cy="2712" r="3.5"/><circle cx="1312" cy="2712" r="2.6"/><circle cx="1404" cy="2697" r="2.3"/><circle cx="1403" cy="2696" r="3.5"/><circle cx="1402" cy="2696" r="1.7"/><circle cx="1101" cy="2767" r="3.5"/><circle cx="1100" cy="2766" r="2.8"/><circle cx="1100" cy="2766" r="2.3"/><circle cx="1014" cy="2739" r="3.2"/><circle cx="1014" cy="2739" r="2.3"/><circle cx="1017" cy="2741" r="3.2"/><circle cx="776" cy="2410" r="1.8"/><circle cx="776" cy="2411" r="3.4"/><circle cx="775" cy="2408" r="3.2"/><circle cx="1271" cy="2335" r="3.0"/><circle cx="1270" cy="2333" r="2.7"/><circle cx="1272" cy="2334" r="2.1"/><circle cx="1326" cy="2320" r="2.3"/><circle cx="1326" cy="2322" r="3.3"/><circle cx="638" cy="2464" r="2.8"/><circle cx="646" cy="2457" r="2.0"/><circle cx="660" cy="2455" r="2.0"/><circle cx="669" cy="2459" r="1.5"/><circle cx="685" cy="2450" r="2.2"/><circle cx="684" cy="2444" r="2.4"/><circle cx="695" cy="2439" r="2.1"/><circle cx="700" cy="2426" r="2.6"/><circle cx="700" cy="2413" r="2.7"/><circle cx="708" cy="2404" r="2.7"/><circle cx="732" cy="2376" r="2.2"/><circle cx="740" cy="2364" r="1.9"/><circle cx="742" cy="2352" r="2.1"/><circle cx="748" cy="2345" r="2.9"/><circle cx="759" cy="2318" r="2.4"/><circle cx="761" cy="2306" r="2.9"/><circle cx="769" cy="2297" r="3.0"/><circle cx="768" cy="2295" r="1.7"/><circle cx="774" cy="2286" r="2.2"/><circle cx="639" cy="2646" r="1.6"/><circle cx="656" cy="2643" r="2.1"/><circle cx="676" cy="2604" r="1.6"/><circle cx="687" cy="2596" r="2.9"/><circle cx="698" cy="2586" r="1.6"/><circle cx="738" cy="2523" r="2.5"/><circle cx="743" cy="2503" r="3.0"/><circle cx="752" cy="2486" r="1.9"/><circle cx="764" cy="2474" r="2.8"/><circle cx="770" cy="2473" r="2.0"/><circle cx="781" cy="2459" r="2.3"/><circle cx="794" cy="2426" r="2.3"/><circle cx="804" cy="2413" r="2.5"/><circle cx="804" cy="2406" r="2.4"/><circle cx="825" cy="2378" r="1.9"/><circle cx="816" cy="2357" r="2.7"/><circle cx="827" cy="2337" r="2.6"/><circle cx="835" cy="2323" r="2.2"/><circle cx="835" cy="2316" r="1.8"/><circle cx="843" cy="2305" r="1.7"/><circle cx="850" cy="2303" r="1.8"/><circle cx="858" cy="2287" r="2.9"/><circle cx="863" cy="2285" r="2.9"/><circle cx="863" cy="2287" r="2.6"/><circle cx="701" cy="2705" r="2.0"/><circle cx="713" cy="2690" r="2.6"/><circle cx="717" cy="2686" r="2.0"/><circle cx="720" cy="2672" r="2.9"/><circle cx="760" cy="2633" r="1.7"/><circle cx="783" cy="2606" r="2.6"/><circle cx="779" cy="2598" r="2.0"/><circle cx="804" cy="2550" r="3.0"/><circle cx="835" cy="2518" r="1.8"/><circle cx="840" cy="2502" r="2.6"/><circle cx="842" cy="2486" r="2.3"/><circle cx="846" cy="2471" r="1.7"/><circle cx="873" cy="2444" r="1.9"/><circle cx="875" cy="2437" r="1.6"/><circle cx="877" cy="2413" r="3.0"/><circle cx="879" cy="2397" r="2.4"/><circle cx="884" cy="2387" r="2.8"/><circle cx="890" cy="2383" r="2.3"/><circle cx="905" cy="2376" r="2.1"/><circle cx="916" cy="2347" r="1.9"/><circle cx="934" cy="2319" r="2.7"/><circle cx="960" cy="2291" r="2.3"/><circle cx="961" cy="2285" r="2.1"/><circle cx="830" cy="2739" r="1.8"/><circle cx="847" cy="2706" r="2.5"/><circle cx="859" cy="2679" r="1.9"/><circle cx="875" cy="2666" r="2.7"/><circle cx="883" cy="2629" r="2.8"/><circle cx="888" cy="2621" r="2.0"/><circle cx="889" cy="2607" r="1.8"/><circle cx="898" cy="2604" r="1.6"/><circle cx="912" cy="2582" r="2.6"/><circle cx="942" cy="2552" r="2.7"/><circle cx="953" cy="2511" r="2.8"/><circle cx="954" cy="2500" r="2.8"/><circle cx="964" cy="2468" r="2.6"/><circle cx="981" cy="2456" r="2.8"/><circle cx="985" cy="2446" r="2.2"/><circle cx="983" cy="2443" r="2.9"/><circle cx="986" cy="2422" r="2.4"/><circle cx="989" cy="2414" r="1.8"/><circle cx="1011" cy="2398" r="1.9"/><circle cx="1027" cy="2380" r="2.7"/><circle cx="1033" cy="2371" r="2.7"/><circle cx="1044" cy="2361" r="2.4"/><circle cx="1041" cy="2355" r="3.0"/><circle cx="1063" cy="2347" r="2.6"/><circle cx="1073" cy="2313" r="1.5"/><circle cx="1079" cy="2294" r="3.0"/><circle cx="883" cy="2771" r="1.6"/><circle cx="906" cy="2729" r="2.7"/><circle cx="914" cy="2700" r="2.5"/><circle cx="958" cy="2651" r="2.2"/><circle cx="961" cy="2639" r="1.6"/><circle cx="972" cy="2627" r="1.9"/><circle cx="978" cy="2608" r="2.7"/><circle cx="993" cy="2599" r="1.6"/><circle cx="996" cy="2589" r="2.2"/><circle cx="1001" cy="2576" r="2.3"/><circle cx="1005" cy="2564" r="2.0"/><circle cx="1014" cy="2549" r="2.4"/><circle cx="1009" cy="2539" r="2.5"/><circle cx="1022" cy="2538" r="2.2"/><circle cx="1032" cy="2502" r="1.7"/><circle cx="1038" cy="2496" r="2.5"/><circle cx="1052" cy="2486" r="1.7"/><circle cx="1075" cy="2459" r="2.0"/><circle cx="1079" cy="2457" r="2.9"/><circle cx="1088" cy="2452" r="2.4"/><circle cx="1093" cy="2398" r="1.9"/><circle cx="1102" cy="2371" r="1.9"/><circle cx="1103" cy="2360" r="1.8"/><circle cx="974" cy="2766" r="2.8"/><circle cx="994" cy="2714" r="2.0"/><circle cx="1002" cy="2708" r="1.6"/><circle cx="1005" cy="2699" r="1.9"/><circle cx="1015" cy="2685" r="1.7"/><circle cx="1023" cy="2671" r="2.1"/><circle cx="1037" cy="2656" r="2.7"/><circle cx="1046" cy="2639" r="2.5"/><circle cx="1053" cy="2625" r="2.5"/><circle cx="1058" cy="2628" r="1.6"/><circle cx="1069" cy="2609" r="1.6"/><circle cx="1085" cy="2587" r="2.9"/><circle cx="1092" cy="2576" r="1.8"/><circle cx="1095" cy="2562" r="1.5"/><circle cx="1102" cy="2539" r="2.8"/><circle cx="1105" cy="2529" r="2.2"/><circle cx="1125" cy="2491" r="1.7"/><circle cx="1145" cy="2475" r="1.6"/><circle cx="1164" cy="2439" r="1.9"/><circle cx="1167" cy="2438" r="2.0"/><circle cx="1173" cy="2423" r="2.8"/><circle cx="1191" cy="2400" r="2.0"/><circle cx="1195" cy="2387" r="2.6"/><circle cx="1212" cy="2358" r="2.4"/><circle cx="1236" cy="2314" r="2.6"/><circle cx="1252" cy="2307" r="2.5"/><circle cx="1064" cy="2735" r="2.3"/><circle cx="1069" cy="2722" r="1.7"/><circle cx="1074" cy="2705" r="1.6"/><circle cx="1095" cy="2675" r="2.3"/><circle cx="1106" cy="2665" r="2.5"/><circle cx="1123" cy="2640" r="2.7"/><circle cx="1141" cy="2609" r="1.6"/><circle cx="1152" cy="2595" r="2.5"/><circle cx="1161" cy="2588" r="2.4"/><circle cx="1163" cy="2566" r="2.4"/><circle cx="1182" cy="2542" r="3.0"/><circle cx="1205" cy="2526" r="2.1"/><circle cx="1210" cy="2512" r="2.0"/><circle cx="1234" cy="2482" r="1.8"/><circle cx="1242" cy="2476" r="3.0"/><circle cx="1242" cy="2464" r="1.8"/><circle cx="1276" cy="2394" r="2.6"/><circle cx="1291" cy="2378" r="2.8"/><circle cx="1300" cy="2370" r="1.9"/><circle cx="1317" cy="2343" r="2.1"/><circle cx="1328" cy="2328" r="2.4"/><circle cx="1340" cy="2302" r="1.9"/><circle cx="1355" cy="2300" r="2.2"/><circle cx="1359" cy="2277" r="2.2"/><circle cx="1159" cy="2752" r="2.1"/><circle cx="1208" cy="2691" r="2.4"/><circle cx="1208" cy="2679" r="2.3"/><circle cx="1214" cy="2666" r="2.0"/><circle cx="1234" cy="2658" r="1.9"/><circle cx="1238" cy="2635" r="1.9"/><circle cx="1248" cy="2632" r="3.0"/><circle cx="1280" cy="2600" r="3.0"/><circle cx="1304" cy="2562" r="2.2"/><circle cx="1322" cy="2538" r="1.7"/><circle cx="1332" cy="2512" r="2.2"/><circle cx="1353" cy="2499" r="1.9"/><circle cx="1362" cy="2473" r="1.8"/><circle cx="1368" cy="2466" r="2.4"/><circle cx="1377" cy="2454" r="3.0"/><circle cx="1384" cy="2438" r="1.8"/><circle cx="1391" cy="2431" r="1.9"/><circle cx="1404" cy="2420" r="2.2"/><circle cx="1422" cy="2399" r="2.6"/><circle cx="1261" cy="2774" r="2.1"/><circle cx="1291" cy="2732" r="2.9"/><circle cx="1316" cy="2694" r="1.5"/><circle cx="1354" cy="2653" r="2.1"/><circle cx="1412" cy="2578" r="2.9"/><circle cx="1418" cy="2570" r="2.3"/><circle cx="1420" cy="2563" r="2.6"/><circle cx="1363" cy="2760" r="2.2"/><circle cx="1372" cy="2749" r="2.6"/><circle cx="1387" cy="2731" r="2.9"/><circle cx="1400" cy="2720" r="1.9"/><circle cx="1404" cy="2711" r="1.7"/><circle cx="1410" cy="2693" r="2.6"/><circle cx="1420" cy="2690" r="2.8"/><circle cx="619" cy="2558" r="1.7"/><circle cx="632" cy="2558" r="2.6"/><circle cx="634" cy="2552" r="1.6"/><circle cx="649" cy="2530" r="1.6"/><circle cx="662" cy="2523" r="2.6"/><circle cx="677" cy="2487" r="2.5"/><circle cx="688" cy="2487" r="2.2"/><circle cx="697" cy="2483" r="2.3"/><circle cx="761" cy="2729" r="2.4"/><circle cx="760" cy="2717" r="1.7"/><circle cx="771" cy="2707" r="2.8"/><circle cx="789" cy="2668" r="2.9"/><circle cx="819" cy="2662" r="3.0"/><circle cx="821" cy="2651" r="1.8"/><circle cx="831" cy="2644" r="2.6"/><circle cx="849" cy="2623" r="1.5"/><circle cx="851" cy="2612" r="2.6"/><circle cx="860" cy="2594" r="2.5"/><circle cx="871" cy="2588" r="1.6"/><circle cx="1129" cy="2388" r="1.9"/><circle cx="1131" cy="2380" r="2.3"/><circle cx="1154" cy="2348" r="2.9"/><circle cx="1161" cy="2338" r="1.8"/><circle cx="1170" cy="2333" r="1.6"/><circle cx="1186" cy="2306" r="2.5"/><circle cx="1187" cy="2298" r="2.1"/><circle cx="1307" cy="2485" r="2.8"/><circle cx="1326" cy="2457" r="2.5"/><circle cx="1345" cy="2436" r="2.5"/><circle cx="1373" cy="2384" r="1.9"/><circle cx="1416" cy="2332" r="2.0"/><circle cx="1026" cy="2743" r="2.4"/><circle cx="1050" cy="2701" r="2.3"/><circle cx="1059" cy="2694" r="2.9"/><circle cx="1073" cy="2676" r="2.6"/><circle cx="627" cy="2370" r="1.7"/><circle cx="638" cy="2371" r="2.2"/><circle cx="639" cy="2366" r="2.8"/><circle cx="652" cy="2342" r="1.9"/><circle cx="657" cy="2332" r="2.3"/><circle cx="667" cy="2323" r="2.8"/><circle cx="680" cy="2309" r="2.2"/><circle cx="683" cy="2301" r="1.7"/><circle cx="687" cy="2288" r="1.7"/><circle cx="701" cy="2451" r="2.8"/><circle cx="730" cy="2428" r="1.7"/><circle cx="748" cy="2399" r="2.7"/><circle cx="777" cy="2384" r="2.7"/><circle cx="777" cy="2354" r="1.5"/><circle cx="672" cy="2668" r="2.0"/><circle cx="689" cy="2650" r="2.0"/><circle cx="717" cy="2615" r="1.9"/><circle cx="740" cy="2587" r="2.8"/><circle cx="794" cy="2508" r="1.7"/><circle cx="841" cy="2420" r="2.4"/><circle cx="858" cy="2397" r="2.5"/><circle cx="869" cy="2379" r="1.8"/><circle cx="860" cy="2333" r="2.2"/><circle cx="903" cy="2302" r="2.6"/><circle cx="743" cy="2710" r="2.9"/><circle cx="763" cy="2680" r="1.8"/><circle cx="823" cy="2613" r="1.8"/><circle cx="894" cy="2467" r="1.7"/><circle cx="910" cy="2442" r="2.8"/><circle cx="953" cy="2368" r="1.8"/><circle cx="965" cy="2342" r="2.0"/><circle cx="872" cy="2735" r="1.7"/><circle cx="907" cy="2680" r="2.2"/><circle cx="938" cy="2624" r="1.9"/><circle cx="977" cy="2564" r="1.6"/><circle cx="1000" cy="2498" r="2.9"/><circle cx="1014" cy="2480" r="3.0"/><circle cx="1030" cy="2430" r="2.6"/><circle cx="1051" cy="2394" r="2.9"/><circle cx="1084" cy="2381" r="2.7"/><circle cx="1091" cy="2364" r="2.6"/><circle cx="1117" cy="2347" r="2.0"/><circle cx="1122" cy="2335" r="1.6"/><circle cx="1132" cy="2299" r="2.1"/><circle cx="1029" cy="2594" r="1.8"/><circle cx="1116" cy="2459" r="1.6"/><circle cx="1124" cy="2435" r="3.0"/><circle cx="1131" cy="2369" r="2.0"/><circle cx="1011" cy="2776" r="2.2"/><circle cx="1055" cy="2699" r="1.6"/><circle cx="1097" cy="2649" r="2.8"/><circle cx="1114" cy="2614" r="2.0"/><circle cx="1148" cy="2531" r="3.0"/><circle cx="1210" cy="2450" r="2.6"/><circle cx="1218" cy="2428" r="2.8"/><circle cx="1111" cy="2701" r="2.6"/><circle cx="1143" cy="2671" r="2.8"/><circle cx="1159" cy="2640" r="2.1"/><circle cx="1174" cy="2602" r="1.8"/><circle cx="1240" cy="2536" r="1.8"/><circle cx="1273" cy="2479" r="1.9"/><circle cx="1296" cy="2444" r="1.7"/><circle cx="1302" cy="2416" r="2.5"/><circle cx="1342" cy="2364" r="2.8"/><circle cx="1360" cy="2341" r="1.6"/><circle cx="1371" cy="2310" r="1.7"/><circle cx="1388" cy="2284" r="2.9"/><circle cx="1222" cy="2724" r="2.7"/><circle cx="1266" cy="2655" r="2.7"/><circle cx="1282" cy="2620" r="2.8"/><circle cx="1313" cy="2595" r="2.9"/><circle cx="1357" cy="2533" r="1.8"/><circle cx="1447" cy="2420" r="2.3"/><circle cx="1344" cy="2702" r="1.9"/><circle cx="1444" cy="2573" r="2.3"/><circle cx="1407" cy="2747" r="2.8"/><circle cx="1430" cy="2724" r="2.3"/><circle cx="1088" cy="2653" r="1.8"/><circle cx="1020" cy="2425" r="1.5"/><circle cx="1159" cy="2550" r="2.5"/><circle cx="807" cy="2603" r="2.2"/><circle cx="1274" cy="2380" r="2.7"/><circle cx="629" cy="2553" r="2.8"/><circle cx="871" cy="2767" r="2.3"/><circle cx="759" cy="2607" r="2.7"/><circle cx="844" cy="2694" r="2.4"/><circle cx="748" cy="2764" r="2.0"/><circle cx="759" cy="2375" r="2.5"/><circle cx="1209" cy="2481" r="1.4"/><circle cx="1385" cy="2541" r="2.5"/><circle cx="645" cy="2426" r="2.7"/><circle cx="1227" cy="2381" r="1.8"/><circle cx="891" cy="2766" r="1.7"/><circle cx="1117" cy="2734" r="1.9"/><circle cx="719" cy="2460" r="1.5"/><circle cx="776" cy="2421" r="1.5"/><circle cx="929" cy="2338" r="2.6"/><circle cx="645" cy="2736" r="2.1"/><circle cx="1366" cy="2501" r="1.5"/><circle cx="1092" cy="2684" r="1.9"/><circle cx="823" cy="2598" r="2.5"/><circle cx="1204" cy="2485" r="2.4"/><circle cx="1228" cy="2418" r="2.1"/><circle cx="721" cy="2296" r="2.4"/><circle cx="1038" cy="2355" r="1.9"/><circle cx="1070" cy="2592" r="2.8"/><circle cx="1186" cy="2415" r="1.4"/><circle cx="1216" cy="2484" r="1.8"/><circle cx="750" cy="2701" r="1.8"/><circle cx="1206" cy="2632" r="1.7"/><circle cx="1275" cy="2676" r="2.1"/><circle cx="1178" cy="2333" r="2.3"/><circle cx="1400" cy="2306" r="1.8"/><circle cx="776" cy="2343" r="1.7"/><circle cx="883" cy="2377" r="2.2"/><circle cx="662" cy="2674" r="1.9"/><circle cx="703" cy="2705" r="1.6"/><circle cx="662" cy="2420" r="1.9"/><circle cx="1291" cy="2375" r="2.4"/><circle cx="902" cy="2630" r="2.6"/><circle cx="1071" cy="2475" r="2.4"/><circle cx="1328" cy="2560" r="1.4"/><circle cx="742" cy="2340" r="2.3"/><circle cx="1275" cy="2657" r="1.7"/><circle cx="943" cy="2645" r="1.6"/><circle cx="797" cy="2288" r="2.5"/><circle cx="1371" cy="2595" r="2.0"/><circle cx="677" cy="2416" r="1.6"/><circle cx="1008" cy="2647" r="2.5"/><circle cx="1092" cy="2483" r="1.6"/><circle cx="1015" cy="2384" r="2.8"/><circle cx="685" cy="2467" r="1.7"/><circle cx="1300" cy="2771" r="1.5"/><circle cx="990" cy="2420" r="1.4"/><circle cx="1131" cy="2304" r="1.9"/><circle cx="1102" cy="2584" r="1.5"/><circle cx="875" cy="2489" r="2.2"/><circle cx="1092" cy="2370" r="1.6"/><circle cx="715" cy="2561" r="2.3"/><circle cx="831" cy="2590" r="1.7"/><circle cx="1190" cy="2494" r="2.7"/><circle cx="756" cy="2600" r="1.8"/><circle cx="1302" cy="2399" r="1.9"/><circle cx="1225" cy="2766" r="2.5"/><circle cx="927" cy="2452" r="2.0"/><circle cx="782" cy="2534" r="2.3"/><circle cx="1229" cy="2499" r="2.4"/><circle cx="803" cy="2538" r="1.6"/><circle cx="1346" cy="2329" r="1.6"/><circle cx="1130" cy="2759" r="2.3"/><circle cx="1134" cy="2676" r="1.7"/><circle cx="1355" cy="2566" r="2.2"/><circle cx="648" cy="2741" r="2.2"/><circle cx="1291" cy="2496" r="1.8"/><circle cx="1338" cy="2561" r="2.8"/><circle cx="1139" cy="2413" r="2.1"/><circle cx="654" cy="2349" r="2.6"/><circle cx="901" cy="2469" r="1.8"/><circle cx="1211" cy="2482" r="2.3"/><circle cx="1312" cy="2477" r="2.8"/><circle cx="1394" cy="2708" r="1.7"/><circle cx="918" cy="2369" r="2.3"/><circle cx="1281" cy="2476" r="1.5"/><circle cx="1307" cy="2462" r="2.5"/><circle cx="1101" cy="2620" r="2.8"/><circle cx="1108" cy="2647" r="1.8"/><circle cx="1374" cy="2328" r="2.3"/><circle cx="1399" cy="2642" r="1.6"/><circle cx="1175" cy="2612" r="2.6"/><circle cx="724" cy="2773" r="1.7"/><circle cx="922" cy="2671" r="2.2"/><circle cx="1395" cy="2521" r="2.1"/><circle cx="919" cy="2768" r="1.8"/><circle cx="1046" cy="2559" r="2.5"/><circle cx="1363" cy="2581" r="1.5"/><circle cx="1305" cy="2312" r="2.5"/><circle cx="1330" cy="2600" r="1.6"/><circle cx="1107" cy="2438" r="2.2"/><circle cx="941" cy="2577" r="1.7"/><circle cx="1256" cy="2588" r="2.0"/><circle cx="1297" cy="2321" r="2.0"/><circle cx="670" cy="2340" r="2.8"/><circle cx="1400" cy="2389" r="1.4"/><circle cx="1086" cy="2766" r="2.1"/><circle cx="1392" cy="2451" r="1.8"/><circle cx="1034" cy="2745" r="2.4"/><circle cx="1340" cy="2673" r="2.6"/><circle cx="1078" cy="2575" r="2.0"/><circle cx="1055" cy="2602" r="1.8"/><circle cx="853" cy="2598" r="2.2"/><circle cx="893" cy="2628" r="1.5"/><circle cx="1049" cy="2708" r="1.7"/><circle cx="640" cy="2678" r="1.6"/><circle cx="1324" cy="2677" r="2.0"/><circle cx="1142" cy="2354" r="2.5"/><circle cx="1203" cy="2574" r="2.0"/><circle cx="1138" cy="2474" r="2.2"/><circle cx="725" cy="2592" r="2.5"/><circle cx="627" cy="2574" r="2.8"/><circle cx="1138" cy="2468" r="2.7"/><circle cx="1071" cy="2459" r="1.6"/><circle cx="960" cy="2522" r="1.9"/><circle cx="940" cy="2723" r="2.4"/><circle cx="1122" cy="2322" r="2.3"/><circle cx="1258" cy="2774" r="2.1"/><circle cx="1121" cy="2686" r="2.2"/><circle cx="1149" cy="2412" r="1.8"/><circle cx="877" cy="2665" r="2.7"/><circle cx="969" cy="2598" r="1.9"/><circle cx="714" cy="2557" r="1.8"/><circle cx="940" cy="2449" r="1.8"/><circle cx="1397" cy="2748" r="2.3"/><circle cx="1404" cy="2298" r="2.5"/><circle cx="809" cy="2728" r="2.6"/><circle cx="1037" cy="2479" r="2.7"/><circle cx="787" cy="2762" r="2.7"/><circle cx="1236" cy="2373" r="2.7"/><circle cx="917" cy="2666" r="1.4"/><circle cx="799" cy="2465" r="1.8"/><circle cx="704" cy="2432" r="1.4"/><circle cx="1365" cy="2494" r="1.5"/><circle cx="914" cy="2579" r="1.6"/><circle cx="959" cy="2470" r="2.2"/><circle cx="802" cy="2636" r="2.2"/><circle cx="935" cy="2664" r="2.0"/><circle cx="1040" cy="2639" r="2.6"/><circle cx="1063" cy="2328" r="2.3"/><circle cx="698" cy="2702" r="1.6"/><circle cx="1201" cy="2472" r="2.1"/><circle cx="878" cy="2381" r="2.5"/><circle cx="1339" cy="2675" r="2.4"/><circle cx="915" cy="2665" r="1.7"/><circle cx="1193" cy="2645" r="1.4"/><circle cx="1352" cy="2381" r="1.9"/><circle cx="1402" cy="2316" r="2.3"/><circle cx="749" cy="2756" r="2.1"/><circle cx="814" cy="2377" r="1.8"/></g>
<circle cx="1295" cy="2523" r="3" fill="#f3f0d0" filter="url(#b1)"/>
</g>
<g clip-path="url(#c4)"><g filter="url(#hm2)">
<rect x="1401.6" y="2274.3" width="805" height="510.2" fill="#9e9e9e"/>
<ellipse cx="1672" cy="2540" rx="45" ry="30" fill="url(#rgw)" opacity="0.00"/>
<ellipse cx="1969" cy="2654" rx="30" ry="40" fill="url(#rgw)" opacity="0.00"/>
<ellipse cx="2076" cy="2317" rx="50" ry="25" fill="url(#rgw)" opacity="0.00"/>
<ellipse cx="2004" cy="2296" rx="30" ry="30" fill="url(#rgw)" opacity="0.00"/>
<ellipse cx="1577" cy="2308" rx="47" ry="38" fill="url(#rgk)" opacity="0.03"/>
<ellipse cx="1648" cy="2320" rx="47" ry="47" fill="url(#rgk)" opacity="0.03"/>
<ellipse cx="1781" cy="2464" rx="38" ry="38" fill="url(#rgk)" opacity="0.03"/>
<ellipse cx="1719" cy="2746" rx="71" ry="38" fill="url(#rgk)" opacity="0.03"/>
<ellipse cx="1874" cy="2654" rx="71" ry="28" fill="url(#rgk)" opacity="0.03"/>
<ellipse cx="2147" cy="2580" rx="47" ry="47" fill="url(#rgk)" opacity="0.03"/>
<ellipse cx="1898" cy="2580" rx="33" ry="24" fill="url(#rgk)" opacity="0.03"/>
<ellipse cx="1423" cy="2502" rx="35" ry="35" fill="url(#rgw)" opacity="0.09"/>
<ellipse cx="1601" cy="2687" rx="100" ry="35" fill="url(#rgw)" opacity="0.12"/>
<ellipse cx="1869" cy="2417" rx="60" ry="40" fill="url(#rgw)" opacity="0.12"/>
<ellipse cx="1931" cy="2616" rx="30" ry="25" fill="url(#rgw)" opacity="0.12"/>
<ellipse cx="1447" cy="2320" rx="57" ry="47" fill="url(#rgk)" opacity="0.10"/>
<ellipse cx="1470" cy="2417" rx="38" ry="57" fill="url(#rgk)" opacity="0.10"/>
<ellipse cx="1707" cy="2687" rx="60" ry="30" fill="url(#rgw)" opacity="0.23"/>
<ellipse cx="2000" cy="2722" rx="40" ry="40" fill="url(#rgw)" opacity="0.23"/>
<ellipse cx="2040" cy="2767" rx="50" ry="20" fill="url(#rgw)" opacity="0.23"/>
<ellipse cx="1534" cy="2613" rx="35" ry="35" fill="url(#rgw)" opacity="0.29"/>
<ellipse cx="1418" cy="2639" rx="30" ry="60" fill="url(#rgw)" opacity="0.29"/>
<ellipse cx="1964" cy="2469" rx="35" ry="35" fill="url(#rgw)" opacity="0.29"/>
<ellipse cx="1648" cy="2758" rx="47" ry="28" fill="url(#rgk)" opacity="0.17"/>
<ellipse cx="1496" cy="2462" rx="45" ry="30" fill="url(#rgw)" opacity="0.38"/>
<ellipse cx="1565" cy="2464" rx="55" ry="30" fill="url(#rgw)" opacity="0.38"/>
<ellipse cx="1817" cy="2734" rx="35" ry="60" fill="url(#rgw)" opacity="0.38"/>
<ellipse cx="1684" cy="2426" rx="50" ry="35" fill="url(#rgw)" opacity="0.46"/>
<ellipse cx="1601" cy="2575" rx="55" ry="30" fill="url(#rgw)" opacity="0.46"/>
<ellipse cx="1931" cy="2538" rx="25" ry="40" fill="url(#rgw)" opacity="0.46"/>
<ellipse cx="2068" cy="2692" rx="45" ry="30" fill="url(#rgw)" opacity="0.46"/>
<ellipse cx="2004" cy="2357" rx="45" ry="40" fill="url(#rgw)" opacity="0.58"/>
<ellipse cx="2064" cy="2509" rx="71" ry="24" fill="url(#rgk)" opacity="0.31"/>
<ellipse cx="1783" cy="2722" rx="45" ry="45" fill="url(#rgw)" opacity="0.67"/>
<ellipse cx="2158" cy="2502" rx="60" ry="30" fill="url(#rgw)" opacity="0.67"/>
<ellipse cx="2068" cy="2466" rx="105" ry="35" fill="url(#rgw)" opacity="0.67"/>
<ellipse cx="1898" cy="2466" rx="30" ry="30" fill="url(#rgw)" opacity="0.67"/>
<ellipse cx="2189" cy="2628" rx="30" ry="90" fill="url(#rgw)" opacity="0.67"/>
<ellipse cx="1808" cy="2611" rx="20" ry="40" fill="url(#rgw)" opacity="0.67"/>
<ellipse cx="2016" cy="2635" rx="47" ry="28" fill="url(#rgk)" opacity="0.34"/>
<ellipse cx="1743" cy="2663" rx="47" ry="47" fill="url(#rgk)" opacity="0.38"/>
<ellipse cx="1482" cy="2580" rx="95" ry="38" fill="url(#rgk)" opacity="0.38"/>
<ellipse cx="1482" cy="2675" rx="95" ry="38" fill="url(#rgk)" opacity="0.38"/>
<ellipse cx="1648" cy="2734" rx="28" ry="24" fill="url(#rgk)" opacity="0.38"/>
<ellipse cx="2016" cy="2421" rx="118" ry="28" fill="url(#rgk)" opacity="0.38"/>
<ellipse cx="2139" cy="2436" rx="28" ry="57" fill="url(#rgk)" opacity="0.38"/>
<ellipse cx="1781" cy="2293" rx="75" ry="30" fill="url(#rgw)" opacity="0.81"/>
<ellipse cx="1783" cy="2611" rx="40" ry="45" fill="url(#rgw)" opacity="0.81"/>
<ellipse cx="1425" cy="2362" rx="38" ry="57" fill="url(#rgk)" opacity="0.43"/>
<ellipse cx="1553" cy="2353" rx="70" ry="35" fill="url(#rgw)" opacity="0.87"/>
<ellipse cx="2135" cy="2718" rx="75" ry="45" fill="url(#rgw)" opacity="0.87"/>
<ellipse cx="1447" cy="2545" rx="71" ry="57" fill="url(#rgk)" opacity="0.45"/>
<ellipse cx="1839" cy="2362" rx="62" ry="57" fill="url(#rgk)" opacity="0.45"/>
<ellipse cx="1950" cy="2580" rx="38" ry="57" fill="url(#rgk)" opacity="0.45"/>
<ellipse cx="2111" cy="2545" rx="38" ry="71" fill="url(#rgk)" opacity="0.45"/>
<ellipse cx="2111" cy="2628" rx="38" ry="47" fill="url(#rgk)" opacity="0.45"/>
<ellipse cx="1817" cy="2668" rx="38" ry="38" fill="url(#rgk)" opacity="0.45"/>
<ellipse cx="2194" cy="2734" rx="24" ry="57" fill="url(#rgk)" opacity="0.45"/>
<ellipse cx="1969" cy="2772" rx="47" ry="19" fill="url(#rgk)" opacity="0.45"/>
<ellipse cx="1817" cy="2303" rx="55" ry="65" fill="url(#rgw)" opacity="0.96"/>
<ellipse cx="1494" cy="2360" rx="33" ry="47" fill="url(#rgk)" opacity="0.48"/>
<ellipse cx="1862" cy="2711" rx="95" ry="71" fill="url(#rgk)" opacity="0.48"/>
<ellipse cx="1534" cy="2540" rx="42" ry="40" fill="url(#rgw)" opacity="1.00"/>
<ellipse cx="1893" cy="2360" rx="40" ry="50" fill="url(#rgw)" opacity="1.00"/>
<ellipse cx="2182" cy="2462" rx="55" ry="100" fill="url(#rgw)" opacity="1.00"/>
<ellipse cx="1529" cy="2320" rx="38" ry="28" fill="url(#rgk)" opacity="0.53"/>
<ellipse cx="1684" cy="2497" rx="57" ry="38" fill="url(#rgk)" opacity="0.53"/>
<ellipse cx="1790" cy="2535" rx="33" ry="52" fill="url(#rgk)" opacity="0.53"/>
<ellipse cx="1839" cy="2592" rx="71" ry="57" fill="url(#rgk)" opacity="0.53"/>
<ellipse cx="1893" cy="2613" rx="38" ry="24" fill="url(#rgk)" opacity="0.53"/>
<ellipse cx="1736" cy="2355" rx="85" ry="40" fill="url(#rgw)" opacity="1.00"/>
<ellipse cx="2035" cy="2566" rx="95" ry="85" fill="url(#rgw)" opacity="1.00"/>
<ellipse cx="1418" cy="2431" rx="28" ry="47" fill="url(#rgk)" opacity="0.57"/>
<ellipse cx="1747" cy="2575" rx="38" ry="33" fill="url(#rgk)" opacity="0.57"/>
<ellipse cx="1936" cy="2431" rx="47" ry="28" fill="url(#rgk)" opacity="0.57"/>
<ellipse cx="1518" cy="2298" rx="62" ry="38" fill="url(#rgk)" opacity="0.60"/>
<ellipse cx="1707" cy="2291" rx="57" ry="24" fill="url(#rgk)" opacity="0.60"/>
<ellipse cx="1679" cy="2616" rx="36" ry="90" fill="url(#rgk)" opacity="0.67"/>
<ellipse cx="1955" cy="2291" rx="52" ry="24" fill="url(#rgk)" opacity="0.67"/>
<ellipse cx="2147" cy="2293" rx="47" ry="24" fill="url(#rgk)" opacity="0.67"/>
<ellipse cx="1617" cy="2386" rx="38" ry="109" fill="url(#rgk)" opacity="0.71"/>
<ellipse cx="1601" cy="2644" rx="47" ry="62" fill="url(#rgk)" opacity="0.74"/>
<ellipse cx="1950" cy="2355" rx="47" ry="38" fill="url(#rgk)" opacity="0.74"/>
<ellipse cx="2144" cy="2649" rx="38" ry="40" fill="url(#rgk)" opacity="0.74"/>
<ellipse cx="2073" cy="2360" rx="28" ry="28" fill="url(#rgk)" opacity="0.96"/>
<ellipse cx="1712" cy="2471" rx="32" ry="32" fill="url(#rgk)" opacity="0.99"/>
<ellipse cx="1601" cy="2538" rx="30" ry="27" fill="url(#rgk)" opacity="1.00"/>
<ellipse cx="2144" cy="2355" rx="32" ry="32" fill="url(#rgk)" opacity="1.00"/>
<ellipse cx="1853" cy="2466" rx="32" ry="27" fill="url(#rgk)" opacity="1.00"/>
<ellipse cx="1876" cy="2540" rx="43" ry="32" fill="url(#rgk)" opacity="1.00"/>
<ellipse cx="2071" cy="2647" rx="28" ry="27" fill="url(#rgk)" opacity="1.00"/>
</g></g>
<rect x="925.3" y="1865.1" width="196.4" height="170.1" fill="none" stroke="#f50c0c" stroke-width="4.8"/>
<rect x="944.6" y="2492.3" width="158.1" height="106.7" fill="none" stroke="#f50c0c" stroke-width="4.8"/>
<rect x="623" y="2117.2" width="203.5" height="67.6" fill="#fff"/><rect x="657" y="2125.2" width="144" height="14.100000000000364" rx="3" fill="#000"/><text x="728.3" y="2173.2" font-family="'Liberation Sans', Arial, sans-serif" font-size="33" fill="#111" text-anchor="middle" textLength="83" lengthAdjust="spacingAndGlyphs">40μm</text>
<rect x="1411" y="2117.6" width="202.2" height="66" fill="#fff"/><rect x="1444.8" y="2125.2" width="143.79999999999995" height="14.5" rx="3" fill="#000"/><text x="1518" y="2173" font-family="'Liberation Sans', Arial, sans-serif" font-size="33" fill="#111" text-anchor="middle" textLength="79.5" lengthAdjust="spacingAndGlyphs">10μm</text>
<rect x="623" y="2709.2" width="203.5" height="67" fill="#fff"/><rect x="642" y="2720" width="150.70000000000005" height="13.699999999999818" rx="3" fill="#000"/><text x="728.3" y="2764.8" font-family="'Liberation Sans', Arial, sans-serif" font-size="33" fill="#111" text-anchor="middle" textLength="83" lengthAdjust="spacingAndGlyphs">40μm</text>
<rect x="1411" y="2708" width="202.2" height="67.2" fill="#fff"/><rect x="1432.4" y="2715" width="148.5999999999999" height="14.599999999999909" rx="3" fill="#000"/><text x="1507.2" y="2763.2" font-family="'Liberation Sans', Arial, sans-serif" font-size="33" fill="#111" text-anchor="middle" textLength="63.7" lengthAdjust="spacingAndGlyphs">8μm</text>
<rect x="2272" y="1762.6" width="68.3" height="331" fill="url(#cb)"/><path d="M2272.5 2093.6V1763.1H2340.3" stroke="#3a3020" stroke-width="1.2" fill="none" opacity="0.8"/><text x="2227.6" y="1737.2" font-family="'Liberation Sans', Arial, sans-serif" font-size="38.5" fill="#1a1a1a" textLength="155.8" lengthAdjust="spacingAndGlyphs">303.5 cts</text><text x="2227.6" y="2145.6" font-family="'Liberation Sans', Arial, sans-serif" font-size="38.5" fill="#1a1a1a" textLength="146" lengthAdjust="spacingAndGlyphs">-81.5 cts</text>
<rect x="2284.7" y="2370" width="70" height="358" fill="url(#cb)"/><path d="M2285.2 2728V2370.5H2354.7" stroke="#3a3020" stroke-width="1.2" fill="none" opacity="0.8"/><text x="2228.5" y="2342.5" font-family="'Liberation Sans', Arial, sans-serif" font-size="38.5" fill="#1a1a1a" textLength="164" lengthAdjust="spacingAndGlyphs">238.3 cts</text><text x="2228.5" y="2792" font-family="'Liberation Sans', Arial, sans-serif" font-size="38.5" fill="#1a1a1a" textLength="176.6" lengthAdjust="spacingAndGlyphs">-163.8 cts</text>
</svg></body></html>
